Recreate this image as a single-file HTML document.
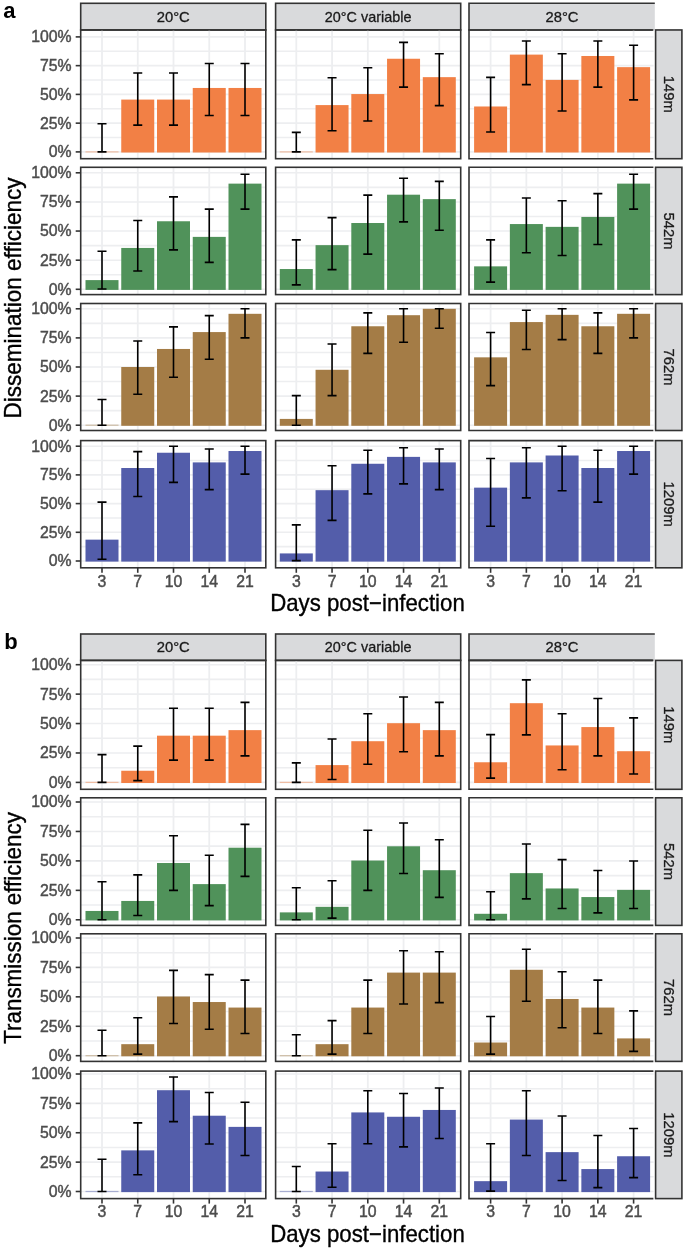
<!DOCTYPE html>
<html><head><meta charset="utf-8"><title>Dissemination and transmission efficiency</title>
<style>
html,body{margin:0;padding:0;background:#fff;}
body{width:685px;height:1250px;overflow:hidden;}
svg{display:block;font-family:"Liberation Sans", sans-serif;}
#w{will-change:transform;width:685px;height:1250px;}
</style></head><body>
<div id="w"><svg width="685" height="1250" viewBox="0 0 685 1250">
<rect x="0" y="0" width="685" height="1250" fill="#FFFFFF"/>
<text x="3.2" y="17.5" font-size="22" font-weight="bold" fill="#000">a</text>
<rect x="80.7" y="3.3" width="185.1" height="26.66" fill="#D9DADC" stroke="#333333" stroke-width="1.6"/>
<text x="173.25" y="21.83" font-size="14.8" fill="#1A1A1A" stroke="#1A1A1A" stroke-width="0.3" text-anchor="middle">20°C</text>
<rect x="275.6" y="3.3" width="185.1" height="26.66" fill="#D9DADC" stroke="#333333" stroke-width="1.6"/>
<text x="368.15" y="21.83" font-size="14.8" fill="#1A1A1A" stroke="#1A1A1A" stroke-width="0.3" text-anchor="middle" textLength="86.6" lengthAdjust="spacingAndGlyphs">20°C variable</text>
<rect x="469" y="3.3" width="185.8" height="26.66" fill="#D9DADC"/>
<path d="M654.8 3.3H469V29.96H652.8" fill="none" stroke="#333333" stroke-width="1.6"/>
<text x="562" y="21.83" font-size="14.8" fill="#1A1A1A" stroke="#1A1A1A" stroke-width="0.3" text-anchor="middle">28°C</text>
<line x1="80.7" y1="151.9" x2="265.8" y2="151.9" stroke="#EDEEF0" stroke-width="1.6"/>
<line x1="80.7" y1="137.53" x2="265.8" y2="137.53" stroke="#EDEEF0" stroke-width="1.6"/>
<line x1="80.7" y1="123.15" x2="265.8" y2="123.15" stroke="#EDEEF0" stroke-width="1.6"/>
<line x1="80.7" y1="108.78" x2="265.8" y2="108.78" stroke="#EDEEF0" stroke-width="1.6"/>
<line x1="80.7" y1="94.4" x2="265.8" y2="94.4" stroke="#EDEEF0" stroke-width="1.6"/>
<line x1="80.7" y1="80.03" x2="265.8" y2="80.03" stroke="#EDEEF0" stroke-width="1.6"/>
<line x1="80.7" y1="65.65" x2="265.8" y2="65.65" stroke="#EDEEF0" stroke-width="1.6"/>
<line x1="80.7" y1="51.28" x2="265.8" y2="51.28" stroke="#EDEEF0" stroke-width="1.6"/>
<line x1="80.7" y1="36.9" x2="265.8" y2="36.9" stroke="#EDEEF0" stroke-width="1.6"/>
<line x1="102" y1="29.96" x2="102" y2="158.7" stroke="#EDEEF0" stroke-width="1.8"/>
<line x1="137.75" y1="29.96" x2="137.75" y2="158.7" stroke="#EDEEF0" stroke-width="1.8"/>
<line x1="173.5" y1="29.96" x2="173.5" y2="158.7" stroke="#EDEEF0" stroke-width="1.8"/>
<line x1="209.25" y1="29.96" x2="209.25" y2="158.7" stroke="#EDEEF0" stroke-width="1.8"/>
<line x1="245" y1="29.96" x2="245" y2="158.7" stroke="#EDEEF0" stroke-width="1.8"/>
<rect x="85.5" y="151.3" width="33" height="1.2" fill="#F28045" fill-opacity="0.45"/>
<rect x="121.25" y="99.58" width="33" height="52.93" fill="#F28045"/>
<rect x="157" y="99.58" width="33" height="52.93" fill="#F28045"/>
<rect x="192.75" y="87.96" width="33" height="64.54" fill="#F28045"/>
<rect x="228.5" y="87.96" width="33" height="64.54" fill="#F28045"/>
<path d="M102 151.9V123.73M97.5 123.73H106.5M97.5 151.9H106.5" fill="none" stroke="#000" stroke-width="1.6"/>
<path d="M137.75 125.11V73.01M133.25 73.01H142.25M133.25 125.11H142.25" fill="none" stroke="#000" stroke-width="1.6"/>
<path d="M173.5 125.11V73.01M169 73.01H178M169 125.11H178" fill="none" stroke="#000" stroke-width="1.6"/>
<path d="M209.25 115.45V63.47M204.75 63.47H213.75M204.75 115.45H213.75" fill="none" stroke="#000" stroke-width="1.6"/>
<path d="M245 115.45V63.47M240.5 63.47H249.5M240.5 115.45H249.5" fill="none" stroke="#000" stroke-width="1.6"/>
<rect x="80.7" y="29.96" width="185.1" height="128.74" fill="none" stroke="#333333" stroke-width="1.6"/>
<line x1="275.6" y1="151.9" x2="460.7" y2="151.9" stroke="#EDEEF0" stroke-width="1.6"/>
<line x1="275.6" y1="137.53" x2="460.7" y2="137.53" stroke="#EDEEF0" stroke-width="1.6"/>
<line x1="275.6" y1="123.15" x2="460.7" y2="123.15" stroke="#EDEEF0" stroke-width="1.6"/>
<line x1="275.6" y1="108.78" x2="460.7" y2="108.78" stroke="#EDEEF0" stroke-width="1.6"/>
<line x1="275.6" y1="94.4" x2="460.7" y2="94.4" stroke="#EDEEF0" stroke-width="1.6"/>
<line x1="275.6" y1="80.03" x2="460.7" y2="80.03" stroke="#EDEEF0" stroke-width="1.6"/>
<line x1="275.6" y1="65.65" x2="460.7" y2="65.65" stroke="#EDEEF0" stroke-width="1.6"/>
<line x1="275.6" y1="51.28" x2="460.7" y2="51.28" stroke="#EDEEF0" stroke-width="1.6"/>
<line x1="275.6" y1="36.9" x2="460.7" y2="36.9" stroke="#EDEEF0" stroke-width="1.6"/>
<line x1="296.3" y1="29.96" x2="296.3" y2="158.7" stroke="#EDEEF0" stroke-width="1.8"/>
<line x1="332.05" y1="29.96" x2="332.05" y2="158.7" stroke="#EDEEF0" stroke-width="1.8"/>
<line x1="367.8" y1="29.96" x2="367.8" y2="158.7" stroke="#EDEEF0" stroke-width="1.8"/>
<line x1="403.55" y1="29.96" x2="403.55" y2="158.7" stroke="#EDEEF0" stroke-width="1.8"/>
<line x1="439.3" y1="29.96" x2="439.3" y2="158.7" stroke="#EDEEF0" stroke-width="1.8"/>
<rect x="279.8" y="151.3" width="33" height="1.2" fill="#F28045" fill-opacity="0.45"/>
<rect x="315.55" y="105.09" width="33" height="47.41" fill="#F28045"/>
<rect x="351.3" y="94.06" width="33" height="58.45" fill="#F28045"/>
<rect x="387.05" y="58.75" width="33" height="93.75" fill="#F28045"/>
<rect x="422.8" y="77.15" width="33" height="75.35" fill="#F28045"/>
<path d="M296.3 151.9V132.35M291.8 132.35H300.8M291.8 151.9H300.8" fill="none" stroke="#000" stroke-width="1.6"/>
<path d="M332.05 130.74V77.73M327.55 77.73H336.55M327.55 130.74H336.55" fill="none" stroke="#000" stroke-width="1.6"/>
<path d="M367.8 120.97V67.72M363.3 67.72H372.3M363.3 120.97H372.3" fill="none" stroke="#000" stroke-width="1.6"/>
<path d="M403.55 87.16V42.42M399.05 42.42H408.05M399.05 87.16H408.05" fill="none" stroke="#000" stroke-width="1.6"/>
<path d="M439.3 105.67V53.81M434.8 53.81H443.8M434.8 105.67H443.8" fill="none" stroke="#000" stroke-width="1.6"/>
<rect x="275.6" y="29.96" width="185.1" height="128.74" fill="none" stroke="#333333" stroke-width="1.6"/>
<line x1="469" y1="151.9" x2="653.6" y2="151.9" stroke="#EDEEF0" stroke-width="1.6"/>
<line x1="469" y1="137.53" x2="653.6" y2="137.53" stroke="#EDEEF0" stroke-width="1.6"/>
<line x1="469" y1="123.15" x2="653.6" y2="123.15" stroke="#EDEEF0" stroke-width="1.6"/>
<line x1="469" y1="108.78" x2="653.6" y2="108.78" stroke="#EDEEF0" stroke-width="1.6"/>
<line x1="469" y1="94.4" x2="653.6" y2="94.4" stroke="#EDEEF0" stroke-width="1.6"/>
<line x1="469" y1="80.03" x2="653.6" y2="80.03" stroke="#EDEEF0" stroke-width="1.6"/>
<line x1="469" y1="65.65" x2="653.6" y2="65.65" stroke="#EDEEF0" stroke-width="1.6"/>
<line x1="469" y1="51.28" x2="653.6" y2="51.28" stroke="#EDEEF0" stroke-width="1.6"/>
<line x1="469" y1="36.9" x2="653.6" y2="36.9" stroke="#EDEEF0" stroke-width="1.6"/>
<line x1="490.6" y1="29.96" x2="490.6" y2="158.7" stroke="#EDEEF0" stroke-width="1.8"/>
<line x1="526.35" y1="29.96" x2="526.35" y2="158.7" stroke="#EDEEF0" stroke-width="1.8"/>
<line x1="562.1" y1="29.96" x2="562.1" y2="158.7" stroke="#EDEEF0" stroke-width="1.8"/>
<line x1="597.85" y1="29.96" x2="597.85" y2="158.7" stroke="#EDEEF0" stroke-width="1.8"/>
<line x1="633.6" y1="29.96" x2="633.6" y2="158.7" stroke="#EDEEF0" stroke-width="1.8"/>
<rect x="474.1" y="106.48" width="33" height="46.02" fill="#F28045"/>
<rect x="509.85" y="54.61" width="33" height="97.89" fill="#F28045"/>
<rect x="545.6" y="79.91" width="33" height="72.59" fill="#F28045"/>
<rect x="581.35" y="55.99" width="33" height="96.51" fill="#F28045"/>
<rect x="617.1" y="67.15" width="33" height="85.35" fill="#F28045"/>
<path d="M490.6 132V77.38M486.1 77.38H495.1M486.1 132H495.1" fill="none" stroke="#000" stroke-width="1.6"/>
<path d="M526.35 84.62V41.04M521.85 41.04H530.85M521.85 84.62H530.85" fill="none" stroke="#000" stroke-width="1.6"/>
<path d="M562.1 110.96V53.81M557.6 53.81H566.6M557.6 110.96H566.6" fill="none" stroke="#000" stroke-width="1.6"/>
<path d="M597.85 87.16V41.04M593.35 41.04H602.35M593.35 87.16H602.35" fill="none" stroke="#000" stroke-width="1.6"/>
<path d="M633.6 99.92V45.18M629.1 45.18H638.1M629.1 99.92H638.1" fill="none" stroke="#000" stroke-width="1.6"/>
<path d="M653.4 29.96H469V158.7H653.4" fill="none" stroke="#333333" stroke-width="1.6"/>
<rect x="655.6" y="29.96" width="26.3" height="128.74" fill="#D9DADC" stroke="#333333" stroke-width="1.6"/>
<text transform="translate(663.6,94.33) rotate(90)" x="0" y="0" font-size="14.8" fill="#1A1A1A" stroke="#1A1A1A" stroke-width="0.3" text-anchor="middle">149m</text>
<line x1="75.7" y1="151.9" x2="80.7" y2="151.9" stroke="#333333" stroke-width="1.6"/>
<text x="71.6" y="157.3" font-size="15.8" fill="#4D4D4D" stroke="#4D4D4D" stroke-width="0.45" text-anchor="end">0%</text>
<line x1="75.7" y1="123.15" x2="80.7" y2="123.15" stroke="#333333" stroke-width="1.6"/>
<text x="71.6" y="128.55" font-size="15.8" fill="#4D4D4D" stroke="#4D4D4D" stroke-width="0.45" text-anchor="end">25%</text>
<line x1="75.7" y1="94.4" x2="80.7" y2="94.4" stroke="#333333" stroke-width="1.6"/>
<text x="71.6" y="99.8" font-size="15.8" fill="#4D4D4D" stroke="#4D4D4D" stroke-width="0.45" text-anchor="end">50%</text>
<line x1="75.7" y1="65.65" x2="80.7" y2="65.65" stroke="#333333" stroke-width="1.6"/>
<text x="71.6" y="71.05" font-size="15.8" fill="#4D4D4D" stroke="#4D4D4D" stroke-width="0.45" text-anchor="end">75%</text>
<line x1="75.7" y1="36.9" x2="80.7" y2="36.9" stroke="#333333" stroke-width="1.6"/>
<text x="71.6" y="42.3" font-size="15.8" fill="#4D4D4D" stroke="#4D4D4D" stroke-width="0.45" text-anchor="end">100%</text>
<line x1="80.7" y1="289.3" x2="265.8" y2="289.3" stroke="#EDEEF0" stroke-width="1.6"/>
<line x1="80.7" y1="274.74" x2="265.8" y2="274.74" stroke="#EDEEF0" stroke-width="1.6"/>
<line x1="80.7" y1="260.18" x2="265.8" y2="260.18" stroke="#EDEEF0" stroke-width="1.6"/>
<line x1="80.7" y1="245.61" x2="265.8" y2="245.61" stroke="#EDEEF0" stroke-width="1.6"/>
<line x1="80.7" y1="231.05" x2="265.8" y2="231.05" stroke="#EDEEF0" stroke-width="1.6"/>
<line x1="80.7" y1="216.49" x2="265.8" y2="216.49" stroke="#EDEEF0" stroke-width="1.6"/>
<line x1="80.7" y1="201.93" x2="265.8" y2="201.93" stroke="#EDEEF0" stroke-width="1.6"/>
<line x1="80.7" y1="187.36" x2="265.8" y2="187.36" stroke="#EDEEF0" stroke-width="1.6"/>
<line x1="80.7" y1="172.8" x2="265.8" y2="172.8" stroke="#EDEEF0" stroke-width="1.6"/>
<line x1="102" y1="167.3" x2="102" y2="294.6" stroke="#EDEEF0" stroke-width="1.8"/>
<line x1="137.75" y1="167.3" x2="137.75" y2="294.6" stroke="#EDEEF0" stroke-width="1.8"/>
<line x1="173.5" y1="167.3" x2="173.5" y2="294.6" stroke="#EDEEF0" stroke-width="1.8"/>
<line x1="209.25" y1="167.3" x2="209.25" y2="294.6" stroke="#EDEEF0" stroke-width="1.8"/>
<line x1="245" y1="167.3" x2="245" y2="294.6" stroke="#EDEEF0" stroke-width="1.8"/>
<rect x="85.5" y="280.1" width="33" height="9.8" fill="#50925A"/>
<rect x="121.25" y="247.94" width="33" height="41.96" fill="#50925A"/>
<rect x="157" y="221.26" width="33" height="68.64" fill="#50925A"/>
<rect x="192.75" y="236.88" width="33" height="53.03" fill="#50925A"/>
<rect x="228.5" y="183.63" width="33" height="106.27" fill="#50925A"/>
<path d="M102 288.95V251.32M97.5 251.32H106.5M97.5 288.95H106.5" fill="none" stroke="#000" stroke-width="1.6"/>
<path d="M137.75 271.01V220.45M133.25 220.45H142.25M133.25 271.01H142.25" fill="none" stroke="#000" stroke-width="1.6"/>
<path d="M173.5 249.92V196.92M169 196.92H178M169 249.92H178" fill="none" stroke="#000" stroke-width="1.6"/>
<path d="M209.25 262.39V209.15M204.75 209.15H213.75M204.75 262.39H213.75" fill="none" stroke="#000" stroke-width="1.6"/>
<path d="M245 209.15V174.2M240.5 174.2H249.5M240.5 209.15H249.5" fill="none" stroke="#000" stroke-width="1.6"/>
<rect x="80.7" y="167.3" width="185.1" height="127.3" fill="none" stroke="#333333" stroke-width="1.6"/>
<line x1="275.6" y1="289.3" x2="460.7" y2="289.3" stroke="#EDEEF0" stroke-width="1.6"/>
<line x1="275.6" y1="274.74" x2="460.7" y2="274.74" stroke="#EDEEF0" stroke-width="1.6"/>
<line x1="275.6" y1="260.18" x2="460.7" y2="260.18" stroke="#EDEEF0" stroke-width="1.6"/>
<line x1="275.6" y1="245.61" x2="460.7" y2="245.61" stroke="#EDEEF0" stroke-width="1.6"/>
<line x1="275.6" y1="231.05" x2="460.7" y2="231.05" stroke="#EDEEF0" stroke-width="1.6"/>
<line x1="275.6" y1="216.49" x2="460.7" y2="216.49" stroke="#EDEEF0" stroke-width="1.6"/>
<line x1="275.6" y1="201.93" x2="460.7" y2="201.93" stroke="#EDEEF0" stroke-width="1.6"/>
<line x1="275.6" y1="187.36" x2="460.7" y2="187.36" stroke="#EDEEF0" stroke-width="1.6"/>
<line x1="275.6" y1="172.8" x2="460.7" y2="172.8" stroke="#EDEEF0" stroke-width="1.6"/>
<line x1="296.3" y1="167.3" x2="296.3" y2="294.6" stroke="#EDEEF0" stroke-width="1.8"/>
<line x1="332.05" y1="167.3" x2="332.05" y2="294.6" stroke="#EDEEF0" stroke-width="1.8"/>
<line x1="367.8" y1="167.3" x2="367.8" y2="294.6" stroke="#EDEEF0" stroke-width="1.8"/>
<line x1="403.55" y1="167.3" x2="403.55" y2="294.6" stroke="#EDEEF0" stroke-width="1.8"/>
<line x1="439.3" y1="167.3" x2="439.3" y2="294.6" stroke="#EDEEF0" stroke-width="1.8"/>
<rect x="279.8" y="269.03" width="33" height="20.87" fill="#50925A"/>
<rect x="315.55" y="245.15" width="33" height="44.75" fill="#50925A"/>
<rect x="351.3" y="223.01" width="33" height="66.89" fill="#50925A"/>
<rect x="387.05" y="194.7" width="33" height="95.2" fill="#50925A"/>
<rect x="422.8" y="199.13" width="33" height="90.77" fill="#50925A"/>
<path d="M296.3 284.87V239.9M291.8 239.9H300.8M291.8 284.87H300.8" fill="none" stroke="#000" stroke-width="1.6"/>
<path d="M332.05 269.61V217.65M327.55 217.65H336.55M327.55 269.61H336.55" fill="none" stroke="#000" stroke-width="1.6"/>
<path d="M367.8 254.12V195.17M363.3 195.17H372.3M363.3 254.12H372.3" fill="none" stroke="#000" stroke-width="1.6"/>
<path d="M403.55 221.85V178.28M399.05 178.28H408.05M399.05 221.85H408.05" fill="none" stroke="#000" stroke-width="1.6"/>
<path d="M439.3 230.23V181.42M434.8 181.42H443.8M434.8 230.23H443.8" fill="none" stroke="#000" stroke-width="1.6"/>
<rect x="275.6" y="167.3" width="185.1" height="127.3" fill="none" stroke="#333333" stroke-width="1.6"/>
<line x1="469" y1="289.3" x2="653.6" y2="289.3" stroke="#EDEEF0" stroke-width="1.6"/>
<line x1="469" y1="274.74" x2="653.6" y2="274.74" stroke="#EDEEF0" stroke-width="1.6"/>
<line x1="469" y1="260.18" x2="653.6" y2="260.18" stroke="#EDEEF0" stroke-width="1.6"/>
<line x1="469" y1="245.61" x2="653.6" y2="245.61" stroke="#EDEEF0" stroke-width="1.6"/>
<line x1="469" y1="231.05" x2="653.6" y2="231.05" stroke="#EDEEF0" stroke-width="1.6"/>
<line x1="469" y1="216.49" x2="653.6" y2="216.49" stroke="#EDEEF0" stroke-width="1.6"/>
<line x1="469" y1="201.93" x2="653.6" y2="201.93" stroke="#EDEEF0" stroke-width="1.6"/>
<line x1="469" y1="187.36" x2="653.6" y2="187.36" stroke="#EDEEF0" stroke-width="1.6"/>
<line x1="469" y1="172.8" x2="653.6" y2="172.8" stroke="#EDEEF0" stroke-width="1.6"/>
<line x1="490.6" y1="167.3" x2="490.6" y2="294.6" stroke="#EDEEF0" stroke-width="1.8"/>
<line x1="526.35" y1="167.3" x2="526.35" y2="294.6" stroke="#EDEEF0" stroke-width="1.8"/>
<line x1="562.1" y1="167.3" x2="562.1" y2="294.6" stroke="#EDEEF0" stroke-width="1.8"/>
<line x1="597.85" y1="167.3" x2="597.85" y2="294.6" stroke="#EDEEF0" stroke-width="1.8"/>
<line x1="633.6" y1="167.3" x2="633.6" y2="294.6" stroke="#EDEEF0" stroke-width="1.8"/>
<rect x="474.1" y="266.35" width="33" height="23.55" fill="#50925A"/>
<rect x="509.85" y="224.06" width="33" height="65.84" fill="#50925A"/>
<rect x="545.6" y="226.86" width="33" height="63.04" fill="#50925A"/>
<rect x="581.35" y="216.95" width="33" height="72.95" fill="#50925A"/>
<rect x="617.1" y="183.63" width="33" height="106.27" fill="#50925A"/>
<path d="M490.6 282.08V239.9M486.1 239.9H495.1M486.1 282.08H495.1" fill="none" stroke="#000" stroke-width="1.6"/>
<path d="M526.35 252.72V197.96M521.85 197.96H530.85M521.85 252.72H530.85" fill="none" stroke="#000" stroke-width="1.6"/>
<path d="M562.1 255.52V200.76M557.6 200.76H566.6M557.6 255.52H566.6" fill="none" stroke="#000" stroke-width="1.6"/>
<path d="M597.85 244.45V193.65M593.35 193.65H602.35M593.35 244.45H602.35" fill="none" stroke="#000" stroke-width="1.6"/>
<path d="M633.6 209.15V174.2M629.1 174.2H638.1M629.1 209.15H638.1" fill="none" stroke="#000" stroke-width="1.6"/>
<path d="M653.4 167.3H469V294.6H653.4" fill="none" stroke="#333333" stroke-width="1.6"/>
<rect x="655.6" y="167.3" width="26.3" height="127.3" fill="#D9DADC" stroke="#333333" stroke-width="1.6"/>
<text transform="translate(663.6,230.95) rotate(90)" x="0" y="0" font-size="14.8" fill="#1A1A1A" stroke="#1A1A1A" stroke-width="0.3" text-anchor="middle">542m</text>
<line x1="75.7" y1="289.3" x2="80.7" y2="289.3" stroke="#333333" stroke-width="1.6"/>
<text x="71.6" y="294.7" font-size="15.8" fill="#4D4D4D" stroke="#4D4D4D" stroke-width="0.45" text-anchor="end">0%</text>
<line x1="75.7" y1="260.18" x2="80.7" y2="260.18" stroke="#333333" stroke-width="1.6"/>
<text x="71.6" y="265.57" font-size="15.8" fill="#4D4D4D" stroke="#4D4D4D" stroke-width="0.45" text-anchor="end">25%</text>
<line x1="75.7" y1="231.05" x2="80.7" y2="231.05" stroke="#333333" stroke-width="1.6"/>
<text x="71.6" y="236.45" font-size="15.8" fill="#4D4D4D" stroke="#4D4D4D" stroke-width="0.45" text-anchor="end">50%</text>
<line x1="75.7" y1="201.93" x2="80.7" y2="201.93" stroke="#333333" stroke-width="1.6"/>
<text x="71.6" y="207.33" font-size="15.8" fill="#4D4D4D" stroke="#4D4D4D" stroke-width="0.45" text-anchor="end">75%</text>
<line x1="75.7" y1="172.8" x2="80.7" y2="172.8" stroke="#333333" stroke-width="1.6"/>
<text x="71.6" y="178.2" font-size="15.8" fill="#4D4D4D" stroke="#4D4D4D" stroke-width="0.45" text-anchor="end">100%</text>
<line x1="80.7" y1="425.2" x2="265.8" y2="425.2" stroke="#EDEEF0" stroke-width="1.6"/>
<line x1="80.7" y1="410.65" x2="265.8" y2="410.65" stroke="#EDEEF0" stroke-width="1.6"/>
<line x1="80.7" y1="396.1" x2="265.8" y2="396.1" stroke="#EDEEF0" stroke-width="1.6"/>
<line x1="80.7" y1="381.55" x2="265.8" y2="381.55" stroke="#EDEEF0" stroke-width="1.6"/>
<line x1="80.7" y1="367" x2="265.8" y2="367" stroke="#EDEEF0" stroke-width="1.6"/>
<line x1="80.7" y1="352.45" x2="265.8" y2="352.45" stroke="#EDEEF0" stroke-width="1.6"/>
<line x1="80.7" y1="337.9" x2="265.8" y2="337.9" stroke="#EDEEF0" stroke-width="1.6"/>
<line x1="80.7" y1="323.35" x2="265.8" y2="323.35" stroke="#EDEEF0" stroke-width="1.6"/>
<line x1="80.7" y1="308.8" x2="265.8" y2="308.8" stroke="#EDEEF0" stroke-width="1.6"/>
<line x1="102" y1="303.5" x2="102" y2="430.5" stroke="#EDEEF0" stroke-width="1.8"/>
<line x1="137.75" y1="303.5" x2="137.75" y2="430.5" stroke="#EDEEF0" stroke-width="1.8"/>
<line x1="173.5" y1="303.5" x2="173.5" y2="430.5" stroke="#EDEEF0" stroke-width="1.8"/>
<line x1="209.25" y1="303.5" x2="209.25" y2="430.5" stroke="#EDEEF0" stroke-width="1.8"/>
<line x1="245" y1="303.5" x2="245" y2="430.5" stroke="#EDEEF0" stroke-width="1.8"/>
<rect x="85.5" y="424.6" width="33" height="1.2" fill="#A47C46" fill-opacity="0.45"/>
<rect x="121.25" y="367" width="33" height="58.8" fill="#A47C46"/>
<rect x="157" y="348.96" width="33" height="76.84" fill="#A47C46"/>
<rect x="192.75" y="332.08" width="33" height="93.72" fill="#A47C46"/>
<rect x="228.5" y="313.81" width="33" height="111.99" fill="#A47C46"/>
<path d="M102 425.2V399.48M97.5 399.48H106.5M97.5 425.2H106.5" fill="none" stroke="#000" stroke-width="1.6"/>
<path d="M137.75 394.24V341.04M133.25 341.04H142.25M133.25 394.24H142.25" fill="none" stroke="#000" stroke-width="1.6"/>
<path d="M173.5 377.24V326.84M169 326.84H178M169 377.24H178" fill="none" stroke="#000" stroke-width="1.6"/>
<path d="M209.25 359.32V315.67M204.75 315.67H213.75M204.75 359.32H213.75" fill="none" stroke="#000" stroke-width="1.6"/>
<path d="M245 337.9V308.8M240.5 308.8H249.5M240.5 337.9H249.5" fill="none" stroke="#000" stroke-width="1.6"/>
<rect x="80.7" y="303.5" width="185.1" height="127" fill="none" stroke="#333333" stroke-width="1.6"/>
<line x1="275.6" y1="425.2" x2="460.7" y2="425.2" stroke="#EDEEF0" stroke-width="1.6"/>
<line x1="275.6" y1="410.65" x2="460.7" y2="410.65" stroke="#EDEEF0" stroke-width="1.6"/>
<line x1="275.6" y1="396.1" x2="460.7" y2="396.1" stroke="#EDEEF0" stroke-width="1.6"/>
<line x1="275.6" y1="381.55" x2="460.7" y2="381.55" stroke="#EDEEF0" stroke-width="1.6"/>
<line x1="275.6" y1="367" x2="460.7" y2="367" stroke="#EDEEF0" stroke-width="1.6"/>
<line x1="275.6" y1="352.45" x2="460.7" y2="352.45" stroke="#EDEEF0" stroke-width="1.6"/>
<line x1="275.6" y1="337.9" x2="460.7" y2="337.9" stroke="#EDEEF0" stroke-width="1.6"/>
<line x1="275.6" y1="323.35" x2="460.7" y2="323.35" stroke="#EDEEF0" stroke-width="1.6"/>
<line x1="275.6" y1="308.8" x2="460.7" y2="308.8" stroke="#EDEEF0" stroke-width="1.6"/>
<line x1="296.3" y1="303.5" x2="296.3" y2="430.5" stroke="#EDEEF0" stroke-width="1.8"/>
<line x1="332.05" y1="303.5" x2="332.05" y2="430.5" stroke="#EDEEF0" stroke-width="1.8"/>
<line x1="367.8" y1="303.5" x2="367.8" y2="430.5" stroke="#EDEEF0" stroke-width="1.8"/>
<line x1="403.55" y1="303.5" x2="403.55" y2="430.5" stroke="#EDEEF0" stroke-width="1.8"/>
<line x1="439.3" y1="303.5" x2="439.3" y2="430.5" stroke="#EDEEF0" stroke-width="1.8"/>
<rect x="279.8" y="418.91" width="33" height="6.89" fill="#A47C46"/>
<rect x="315.55" y="369.79" width="33" height="56.01" fill="#A47C46"/>
<rect x="351.3" y="326.26" width="33" height="99.54" fill="#A47C46"/>
<rect x="387.05" y="315.2" width="33" height="110.6" fill="#A47C46"/>
<rect x="422.8" y="308.8" width="33" height="117" fill="#A47C46"/>
<path d="M296.3 425.2V395.63M291.8 395.63H300.8M291.8 425.2H300.8" fill="none" stroke="#000" stroke-width="1.6"/>
<path d="M332.05 395.63V343.95M327.55 343.95H336.55M327.55 395.63H336.55" fill="none" stroke="#000" stroke-width="1.6"/>
<path d="M367.8 353.38V312.87M363.3 312.87H372.3M363.3 353.38H372.3" fill="none" stroke="#000" stroke-width="1.6"/>
<path d="M403.55 342.32V308.8M399.05 308.8H408.05M399.05 342.32H408.05" fill="none" stroke="#000" stroke-width="1.6"/>
<path d="M439.3 328.24V308.8M434.8 308.8H443.8M434.8 328.24H443.8" fill="none" stroke="#000" stroke-width="1.6"/>
<rect x="275.6" y="303.5" width="185.1" height="127" fill="none" stroke="#333333" stroke-width="1.6"/>
<line x1="469" y1="425.2" x2="653.6" y2="425.2" stroke="#EDEEF0" stroke-width="1.6"/>
<line x1="469" y1="410.65" x2="653.6" y2="410.65" stroke="#EDEEF0" stroke-width="1.6"/>
<line x1="469" y1="396.1" x2="653.6" y2="396.1" stroke="#EDEEF0" stroke-width="1.6"/>
<line x1="469" y1="381.55" x2="653.6" y2="381.55" stroke="#EDEEF0" stroke-width="1.6"/>
<line x1="469" y1="367" x2="653.6" y2="367" stroke="#EDEEF0" stroke-width="1.6"/>
<line x1="469" y1="352.45" x2="653.6" y2="352.45" stroke="#EDEEF0" stroke-width="1.6"/>
<line x1="469" y1="337.9" x2="653.6" y2="337.9" stroke="#EDEEF0" stroke-width="1.6"/>
<line x1="469" y1="323.35" x2="653.6" y2="323.35" stroke="#EDEEF0" stroke-width="1.6"/>
<line x1="469" y1="308.8" x2="653.6" y2="308.8" stroke="#EDEEF0" stroke-width="1.6"/>
<line x1="490.6" y1="303.5" x2="490.6" y2="430.5" stroke="#EDEEF0" stroke-width="1.8"/>
<line x1="526.35" y1="303.5" x2="526.35" y2="430.5" stroke="#EDEEF0" stroke-width="1.8"/>
<line x1="562.1" y1="303.5" x2="562.1" y2="430.5" stroke="#EDEEF0" stroke-width="1.8"/>
<line x1="597.85" y1="303.5" x2="597.85" y2="430.5" stroke="#EDEEF0" stroke-width="1.8"/>
<line x1="633.6" y1="303.5" x2="633.6" y2="430.5" stroke="#EDEEF0" stroke-width="1.8"/>
<rect x="474.1" y="357.34" width="33" height="68.46" fill="#A47C46"/>
<rect x="509.85" y="322.07" width="33" height="103.73" fill="#A47C46"/>
<rect x="545.6" y="314.85" width="33" height="110.95" fill="#A47C46"/>
<rect x="581.35" y="326.26" width="33" height="99.54" fill="#A47C46"/>
<rect x="617.1" y="313.81" width="33" height="111.99" fill="#A47C46"/>
<path d="M490.6 385.62V332.55M486.1 332.55H495.1M486.1 385.62H495.1" fill="none" stroke="#000" stroke-width="1.6"/>
<path d="M526.35 349.54V310.2M521.85 310.2H530.85M521.85 349.54H530.85" fill="none" stroke="#000" stroke-width="1.6"/>
<path d="M562.1 339.65V308.8M557.6 308.8H566.6M557.6 339.65H566.6" fill="none" stroke="#000" stroke-width="1.6"/>
<path d="M597.85 353.38V312.87M593.35 312.87H602.35M593.35 353.38H602.35" fill="none" stroke="#000" stroke-width="1.6"/>
<path d="M633.6 337.9V308.8M629.1 308.8H638.1M629.1 337.9H638.1" fill="none" stroke="#000" stroke-width="1.6"/>
<path d="M653.4 303.5H469V430.5H653.4" fill="none" stroke="#333333" stroke-width="1.6"/>
<rect x="655.6" y="303.5" width="26.3" height="127" fill="#D9DADC" stroke="#333333" stroke-width="1.6"/>
<text transform="translate(663.6,367) rotate(90)" x="0" y="0" font-size="14.8" fill="#1A1A1A" stroke="#1A1A1A" stroke-width="0.3" text-anchor="middle">762m</text>
<line x1="75.7" y1="425.2" x2="80.7" y2="425.2" stroke="#333333" stroke-width="1.6"/>
<text x="71.6" y="430.6" font-size="15.8" fill="#4D4D4D" stroke="#4D4D4D" stroke-width="0.45" text-anchor="end">0%</text>
<line x1="75.7" y1="396.1" x2="80.7" y2="396.1" stroke="#333333" stroke-width="1.6"/>
<text x="71.6" y="401.5" font-size="15.8" fill="#4D4D4D" stroke="#4D4D4D" stroke-width="0.45" text-anchor="end">25%</text>
<line x1="75.7" y1="367" x2="80.7" y2="367" stroke="#333333" stroke-width="1.6"/>
<text x="71.6" y="372.4" font-size="15.8" fill="#4D4D4D" stroke="#4D4D4D" stroke-width="0.45" text-anchor="end">50%</text>
<line x1="75.7" y1="337.9" x2="80.7" y2="337.9" stroke="#333333" stroke-width="1.6"/>
<text x="71.6" y="343.3" font-size="15.8" fill="#4D4D4D" stroke="#4D4D4D" stroke-width="0.45" text-anchor="end">75%</text>
<line x1="75.7" y1="308.8" x2="80.7" y2="308.8" stroke="#333333" stroke-width="1.6"/>
<text x="71.6" y="314.2" font-size="15.8" fill="#4D4D4D" stroke="#4D4D4D" stroke-width="0.45" text-anchor="end">100%</text>
<line x1="80.7" y1="561" x2="265.8" y2="561" stroke="#EDEEF0" stroke-width="1.6"/>
<line x1="80.7" y1="546.65" x2="265.8" y2="546.65" stroke="#EDEEF0" stroke-width="1.6"/>
<line x1="80.7" y1="532.3" x2="265.8" y2="532.3" stroke="#EDEEF0" stroke-width="1.6"/>
<line x1="80.7" y1="517.95" x2="265.8" y2="517.95" stroke="#EDEEF0" stroke-width="1.6"/>
<line x1="80.7" y1="503.6" x2="265.8" y2="503.6" stroke="#EDEEF0" stroke-width="1.6"/>
<line x1="80.7" y1="489.25" x2="265.8" y2="489.25" stroke="#EDEEF0" stroke-width="1.6"/>
<line x1="80.7" y1="474.9" x2="265.8" y2="474.9" stroke="#EDEEF0" stroke-width="1.6"/>
<line x1="80.7" y1="460.55" x2="265.8" y2="460.55" stroke="#EDEEF0" stroke-width="1.6"/>
<line x1="80.7" y1="446.2" x2="265.8" y2="446.2" stroke="#EDEEF0" stroke-width="1.6"/>
<line x1="102" y1="440.6" x2="102" y2="567.8" stroke="#EDEEF0" stroke-width="1.8"/>
<line x1="137.75" y1="440.6" x2="137.75" y2="567.8" stroke="#EDEEF0" stroke-width="1.8"/>
<line x1="173.5" y1="440.6" x2="173.5" y2="567.8" stroke="#EDEEF0" stroke-width="1.8"/>
<line x1="209.25" y1="440.6" x2="209.25" y2="567.8" stroke="#EDEEF0" stroke-width="1.8"/>
<line x1="245" y1="440.6" x2="245" y2="567.8" stroke="#EDEEF0" stroke-width="1.8"/>
<rect x="85.5" y="539.65" width="33" height="21.95" fill="#535DAA"/>
<rect x="121.25" y="468.01" width="33" height="93.59" fill="#535DAA"/>
<rect x="157" y="452.74" width="33" height="108.86" fill="#535DAA"/>
<rect x="192.75" y="462.39" width="33" height="99.21" fill="#535DAA"/>
<rect x="228.5" y="451.02" width="33" height="110.58" fill="#535DAA"/>
<path d="M102 559.28V502.11M97.5 502.11H106.5M97.5 559.28H106.5" fill="none" stroke="#000" stroke-width="1.6"/>
<path d="M137.75 496.48V451.6M133.25 451.6H142.25M133.25 496.48H142.25" fill="none" stroke="#000" stroke-width="1.6"/>
<path d="M173.5 482.36V446.31M169 446.31H178M169 482.36H178" fill="none" stroke="#000" stroke-width="1.6"/>
<path d="M209.25 489.59V449.07M204.75 449.07H213.75M204.75 489.59H213.75" fill="none" stroke="#000" stroke-width="1.6"/>
<path d="M245 474.1V446.2M240.5 446.2H249.5M240.5 474.1H249.5" fill="none" stroke="#000" stroke-width="1.6"/>
<rect x="80.7" y="440.6" width="185.1" height="127.2" fill="none" stroke="#333333" stroke-width="1.6"/>
<line x1="275.6" y1="561" x2="460.7" y2="561" stroke="#EDEEF0" stroke-width="1.6"/>
<line x1="275.6" y1="546.65" x2="460.7" y2="546.65" stroke="#EDEEF0" stroke-width="1.6"/>
<line x1="275.6" y1="532.3" x2="460.7" y2="532.3" stroke="#EDEEF0" stroke-width="1.6"/>
<line x1="275.6" y1="517.95" x2="460.7" y2="517.95" stroke="#EDEEF0" stroke-width="1.6"/>
<line x1="275.6" y1="503.6" x2="460.7" y2="503.6" stroke="#EDEEF0" stroke-width="1.6"/>
<line x1="275.6" y1="489.25" x2="460.7" y2="489.25" stroke="#EDEEF0" stroke-width="1.6"/>
<line x1="275.6" y1="474.9" x2="460.7" y2="474.9" stroke="#EDEEF0" stroke-width="1.6"/>
<line x1="275.6" y1="460.55" x2="460.7" y2="460.55" stroke="#EDEEF0" stroke-width="1.6"/>
<line x1="275.6" y1="446.2" x2="460.7" y2="446.2" stroke="#EDEEF0" stroke-width="1.6"/>
<line x1="296.3" y1="440.6" x2="296.3" y2="567.8" stroke="#EDEEF0" stroke-width="1.8"/>
<line x1="332.05" y1="440.6" x2="332.05" y2="567.8" stroke="#EDEEF0" stroke-width="1.8"/>
<line x1="367.8" y1="440.6" x2="367.8" y2="567.8" stroke="#EDEEF0" stroke-width="1.8"/>
<line x1="403.55" y1="440.6" x2="403.55" y2="567.8" stroke="#EDEEF0" stroke-width="1.8"/>
<line x1="439.3" y1="440.6" x2="439.3" y2="567.8" stroke="#EDEEF0" stroke-width="1.8"/>
<rect x="279.8" y="553.42" width="33" height="8.18" fill="#535DAA"/>
<rect x="315.55" y="490.17" width="33" height="71.43" fill="#535DAA"/>
<rect x="351.3" y="463.76" width="33" height="97.84" fill="#535DAA"/>
<rect x="387.05" y="456.88" width="33" height="104.72" fill="#535DAA"/>
<rect x="422.8" y="462.39" width="33" height="99.21" fill="#535DAA"/>
<path d="M296.3 560.66V524.84M291.8 524.84H300.8M291.8 560.66H300.8" fill="none" stroke="#000" stroke-width="1.6"/>
<path d="M332.05 520.36V465.72M327.55 465.72H336.55M327.55 520.36H336.55" fill="none" stroke="#000" stroke-width="1.6"/>
<path d="M367.8 493.84V450.22M363.3 450.22H372.3M363.3 493.84H372.3" fill="none" stroke="#000" stroke-width="1.6"/>
<path d="M403.55 483.85V447.69M399.05 447.69H408.05M399.05 483.85H408.05" fill="none" stroke="#000" stroke-width="1.6"/>
<path d="M439.3 489.59V449.07M434.8 449.07H443.8M434.8 489.59H443.8" fill="none" stroke="#000" stroke-width="1.6"/>
<rect x="275.6" y="440.6" width="185.1" height="127.2" fill="none" stroke="#333333" stroke-width="1.6"/>
<line x1="469" y1="561" x2="653.6" y2="561" stroke="#EDEEF0" stroke-width="1.6"/>
<line x1="469" y1="546.65" x2="653.6" y2="546.65" stroke="#EDEEF0" stroke-width="1.6"/>
<line x1="469" y1="532.3" x2="653.6" y2="532.3" stroke="#EDEEF0" stroke-width="1.6"/>
<line x1="469" y1="517.95" x2="653.6" y2="517.95" stroke="#EDEEF0" stroke-width="1.6"/>
<line x1="469" y1="503.6" x2="653.6" y2="503.6" stroke="#EDEEF0" stroke-width="1.6"/>
<line x1="469" y1="489.25" x2="653.6" y2="489.25" stroke="#EDEEF0" stroke-width="1.6"/>
<line x1="469" y1="474.9" x2="653.6" y2="474.9" stroke="#EDEEF0" stroke-width="1.6"/>
<line x1="469" y1="460.55" x2="653.6" y2="460.55" stroke="#EDEEF0" stroke-width="1.6"/>
<line x1="469" y1="446.2" x2="653.6" y2="446.2" stroke="#EDEEF0" stroke-width="1.6"/>
<line x1="490.6" y1="440.6" x2="490.6" y2="567.8" stroke="#EDEEF0" stroke-width="1.8"/>
<line x1="526.35" y1="440.6" x2="526.35" y2="567.8" stroke="#EDEEF0" stroke-width="1.8"/>
<line x1="562.1" y1="440.6" x2="562.1" y2="567.8" stroke="#EDEEF0" stroke-width="1.8"/>
<line x1="597.85" y1="440.6" x2="597.85" y2="567.8" stroke="#EDEEF0" stroke-width="1.8"/>
<line x1="633.6" y1="440.6" x2="633.6" y2="567.8" stroke="#EDEEF0" stroke-width="1.8"/>
<rect x="474.1" y="487.64" width="33" height="73.96" fill="#535DAA"/>
<rect x="509.85" y="462.39" width="33" height="99.21" fill="#535DAA"/>
<rect x="545.6" y="455.5" width="33" height="106.1" fill="#535DAA"/>
<rect x="581.35" y="468.01" width="33" height="93.59" fill="#535DAA"/>
<rect x="617.1" y="451.02" width="33" height="110.58" fill="#535DAA"/>
<path d="M490.6 526.22V458.48M486.1 458.48H495.1M486.1 526.22H495.1" fill="none" stroke="#000" stroke-width="1.6"/>
<path d="M526.35 497.86V447.69M521.85 447.69H530.85M521.85 497.86H530.85" fill="none" stroke="#000" stroke-width="1.6"/>
<path d="M562.1 490.74V446.2M557.6 446.2H566.6M557.6 490.74H566.6" fill="none" stroke="#000" stroke-width="1.6"/>
<path d="M597.85 502.11V450.22M593.35 450.22H602.35M593.35 502.11H602.35" fill="none" stroke="#000" stroke-width="1.6"/>
<path d="M633.6 474.1V446.2M629.1 446.2H638.1M629.1 474.1H638.1" fill="none" stroke="#000" stroke-width="1.6"/>
<path d="M653.4 440.6H469V567.8H653.4" fill="none" stroke="#333333" stroke-width="1.6"/>
<rect x="655.6" y="440.6" width="26.3" height="127.2" fill="#D9DADC" stroke="#333333" stroke-width="1.6"/>
<text transform="translate(663.6,504.2) rotate(90)" x="0" y="0" font-size="14.8" fill="#1A1A1A" stroke="#1A1A1A" stroke-width="0.3" text-anchor="middle">1209m</text>
<line x1="75.7" y1="561" x2="80.7" y2="561" stroke="#333333" stroke-width="1.6"/>
<text x="71.6" y="566.4" font-size="15.8" fill="#4D4D4D" stroke="#4D4D4D" stroke-width="0.45" text-anchor="end">0%</text>
<line x1="75.7" y1="532.3" x2="80.7" y2="532.3" stroke="#333333" stroke-width="1.6"/>
<text x="71.6" y="537.7" font-size="15.8" fill="#4D4D4D" stroke="#4D4D4D" stroke-width="0.45" text-anchor="end">25%</text>
<line x1="75.7" y1="503.6" x2="80.7" y2="503.6" stroke="#333333" stroke-width="1.6"/>
<text x="71.6" y="509" font-size="15.8" fill="#4D4D4D" stroke="#4D4D4D" stroke-width="0.45" text-anchor="end">50%</text>
<line x1="75.7" y1="474.9" x2="80.7" y2="474.9" stroke="#333333" stroke-width="1.6"/>
<text x="71.6" y="480.3" font-size="15.8" fill="#4D4D4D" stroke="#4D4D4D" stroke-width="0.45" text-anchor="end">75%</text>
<line x1="75.7" y1="446.2" x2="80.7" y2="446.2" stroke="#333333" stroke-width="1.6"/>
<text x="71.6" y="451.6" font-size="15.8" fill="#4D4D4D" stroke="#4D4D4D" stroke-width="0.45" text-anchor="end">100%</text>
<line x1="102" y1="567.8" x2="102" y2="572.8" stroke="#333333" stroke-width="1.6"/>
<text x="102" y="587" font-size="15.8" fill="#4D4D4D" stroke="#4D4D4D" stroke-width="0.45" text-anchor="middle">3</text>
<line x1="137.75" y1="567.8" x2="137.75" y2="572.8" stroke="#333333" stroke-width="1.6"/>
<text x="137.75" y="587" font-size="15.8" fill="#4D4D4D" stroke="#4D4D4D" stroke-width="0.45" text-anchor="middle">7</text>
<line x1="173.5" y1="567.8" x2="173.5" y2="572.8" stroke="#333333" stroke-width="1.6"/>
<text x="173.5" y="587" font-size="15.8" fill="#4D4D4D" stroke="#4D4D4D" stroke-width="0.45" text-anchor="middle">10</text>
<line x1="209.25" y1="567.8" x2="209.25" y2="572.8" stroke="#333333" stroke-width="1.6"/>
<text x="209.25" y="587" font-size="15.8" fill="#4D4D4D" stroke="#4D4D4D" stroke-width="0.45" text-anchor="middle">14</text>
<line x1="245" y1="567.8" x2="245" y2="572.8" stroke="#333333" stroke-width="1.6"/>
<text x="245" y="587" font-size="15.8" fill="#4D4D4D" stroke="#4D4D4D" stroke-width="0.45" text-anchor="middle">21</text>
<line x1="296.3" y1="567.8" x2="296.3" y2="572.8" stroke="#333333" stroke-width="1.6"/>
<text x="296.3" y="587" font-size="15.8" fill="#4D4D4D" stroke="#4D4D4D" stroke-width="0.45" text-anchor="middle">3</text>
<line x1="332.05" y1="567.8" x2="332.05" y2="572.8" stroke="#333333" stroke-width="1.6"/>
<text x="332.05" y="587" font-size="15.8" fill="#4D4D4D" stroke="#4D4D4D" stroke-width="0.45" text-anchor="middle">7</text>
<line x1="367.8" y1="567.8" x2="367.8" y2="572.8" stroke="#333333" stroke-width="1.6"/>
<text x="367.8" y="587" font-size="15.8" fill="#4D4D4D" stroke="#4D4D4D" stroke-width="0.45" text-anchor="middle">10</text>
<line x1="403.55" y1="567.8" x2="403.55" y2="572.8" stroke="#333333" stroke-width="1.6"/>
<text x="403.55" y="587" font-size="15.8" fill="#4D4D4D" stroke="#4D4D4D" stroke-width="0.45" text-anchor="middle">14</text>
<line x1="439.3" y1="567.8" x2="439.3" y2="572.8" stroke="#333333" stroke-width="1.6"/>
<text x="439.3" y="587" font-size="15.8" fill="#4D4D4D" stroke="#4D4D4D" stroke-width="0.45" text-anchor="middle">21</text>
<line x1="490.6" y1="567.8" x2="490.6" y2="572.8" stroke="#333333" stroke-width="1.6"/>
<text x="490.6" y="587" font-size="15.8" fill="#4D4D4D" stroke="#4D4D4D" stroke-width="0.45" text-anchor="middle">3</text>
<line x1="526.35" y1="567.8" x2="526.35" y2="572.8" stroke="#333333" stroke-width="1.6"/>
<text x="526.35" y="587" font-size="15.8" fill="#4D4D4D" stroke="#4D4D4D" stroke-width="0.45" text-anchor="middle">7</text>
<line x1="562.1" y1="567.8" x2="562.1" y2="572.8" stroke="#333333" stroke-width="1.6"/>
<text x="562.1" y="587" font-size="15.8" fill="#4D4D4D" stroke="#4D4D4D" stroke-width="0.45" text-anchor="middle">10</text>
<line x1="597.85" y1="567.8" x2="597.85" y2="572.8" stroke="#333333" stroke-width="1.6"/>
<text x="597.85" y="587" font-size="15.8" fill="#4D4D4D" stroke="#4D4D4D" stroke-width="0.45" text-anchor="middle">14</text>
<line x1="633.6" y1="567.8" x2="633.6" y2="572.8" stroke="#333333" stroke-width="1.6"/>
<text x="633.6" y="587" font-size="15.8" fill="#4D4D4D" stroke="#4D4D4D" stroke-width="0.45" text-anchor="middle">21</text>
<text x="270.2" y="610.5" font-size="23.8" fill="#000" stroke="#000" stroke-width="0.35" textLength="194.6" lengthAdjust="spacingAndGlyphs">Days post−infection</text>
<text transform="translate(21.1,298) rotate(-90)" x="-120.5" y="0" font-size="23.8" fill="#000" stroke="#000" stroke-width="0.35" textLength="241" lengthAdjust="spacingAndGlyphs">Dissemination efficiency</text>
<text x="4.3" y="648.5" font-size="22" font-weight="bold" fill="#000">b</text>
<rect x="80.7" y="634" width="185.1" height="26.4" fill="#D9DADC" stroke="#333333" stroke-width="1.6"/>
<text x="173.25" y="652.35" font-size="14.8" fill="#1A1A1A" stroke="#1A1A1A" stroke-width="0.3" text-anchor="middle">20°C</text>
<rect x="275.6" y="634" width="185.1" height="26.4" fill="#D9DADC" stroke="#333333" stroke-width="1.6"/>
<text x="368.15" y="652.35" font-size="14.8" fill="#1A1A1A" stroke="#1A1A1A" stroke-width="0.3" text-anchor="middle" textLength="86.6" lengthAdjust="spacingAndGlyphs">20°C variable</text>
<rect x="469" y="634" width="185.8" height="26.4" fill="#D9DADC"/>
<path d="M654.8 634H469V660.4H652.8" fill="none" stroke="#333333" stroke-width="1.6"/>
<text x="562" y="652.35" font-size="14.8" fill="#1A1A1A" stroke="#1A1A1A" stroke-width="0.3" text-anchor="middle">28°C</text>
<line x1="80.7" y1="782.4" x2="265.8" y2="782.4" stroke="#EDEEF0" stroke-width="1.6"/>
<line x1="80.7" y1="767.69" x2="265.8" y2="767.69" stroke="#EDEEF0" stroke-width="1.6"/>
<line x1="80.7" y1="752.98" x2="265.8" y2="752.98" stroke="#EDEEF0" stroke-width="1.6"/>
<line x1="80.7" y1="738.26" x2="265.8" y2="738.26" stroke="#EDEEF0" stroke-width="1.6"/>
<line x1="80.7" y1="723.55" x2="265.8" y2="723.55" stroke="#EDEEF0" stroke-width="1.6"/>
<line x1="80.7" y1="708.84" x2="265.8" y2="708.84" stroke="#EDEEF0" stroke-width="1.6"/>
<line x1="80.7" y1="694.12" x2="265.8" y2="694.12" stroke="#EDEEF0" stroke-width="1.6"/>
<line x1="80.7" y1="679.41" x2="265.8" y2="679.41" stroke="#EDEEF0" stroke-width="1.6"/>
<line x1="80.7" y1="664.7" x2="265.8" y2="664.7" stroke="#EDEEF0" stroke-width="1.6"/>
<line x1="102" y1="660.4" x2="102" y2="789.3" stroke="#EDEEF0" stroke-width="1.8"/>
<line x1="137.75" y1="660.4" x2="137.75" y2="789.3" stroke="#EDEEF0" stroke-width="1.8"/>
<line x1="173.5" y1="660.4" x2="173.5" y2="789.3" stroke="#EDEEF0" stroke-width="1.8"/>
<line x1="209.25" y1="660.4" x2="209.25" y2="789.3" stroke="#EDEEF0" stroke-width="1.8"/>
<line x1="245" y1="660.4" x2="245" y2="789.3" stroke="#EDEEF0" stroke-width="1.8"/>
<rect x="85.5" y="781.8" width="33" height="1.2" fill="#F28045" fill-opacity="0.45"/>
<rect x="121.25" y="770.75" width="33" height="12.25" fill="#F28045"/>
<rect x="157" y="735.67" width="33" height="47.33" fill="#F28045"/>
<rect x="192.75" y="735.67" width="33" height="47.33" fill="#F28045"/>
<rect x="228.5" y="730.14" width="33" height="52.86" fill="#F28045"/>
<path d="M102 782.4V754.62M97.5 754.62H106.5M97.5 782.4H106.5" fill="none" stroke="#000" stroke-width="1.6"/>
<path d="M137.75 780.63V746.15M133.25 746.15H142.25M133.25 780.63H142.25" fill="none" stroke="#000" stroke-width="1.6"/>
<path d="M173.5 760.15V708.25M169 708.25H178M169 760.15H178" fill="none" stroke="#000" stroke-width="1.6"/>
<path d="M209.25 760.15V708.25M204.75 708.25H213.75M204.75 760.15H213.75" fill="none" stroke="#000" stroke-width="1.6"/>
<path d="M245 755.92V702.36M240.5 702.36H249.5M240.5 755.92H249.5" fill="none" stroke="#000" stroke-width="1.6"/>
<rect x="80.7" y="660.4" width="185.1" height="128.9" fill="none" stroke="#333333" stroke-width="1.6"/>
<line x1="275.6" y1="782.4" x2="460.7" y2="782.4" stroke="#EDEEF0" stroke-width="1.6"/>
<line x1="275.6" y1="767.69" x2="460.7" y2="767.69" stroke="#EDEEF0" stroke-width="1.6"/>
<line x1="275.6" y1="752.98" x2="460.7" y2="752.98" stroke="#EDEEF0" stroke-width="1.6"/>
<line x1="275.6" y1="738.26" x2="460.7" y2="738.26" stroke="#EDEEF0" stroke-width="1.6"/>
<line x1="275.6" y1="723.55" x2="460.7" y2="723.55" stroke="#EDEEF0" stroke-width="1.6"/>
<line x1="275.6" y1="708.84" x2="460.7" y2="708.84" stroke="#EDEEF0" stroke-width="1.6"/>
<line x1="275.6" y1="694.12" x2="460.7" y2="694.12" stroke="#EDEEF0" stroke-width="1.6"/>
<line x1="275.6" y1="679.41" x2="460.7" y2="679.41" stroke="#EDEEF0" stroke-width="1.6"/>
<line x1="275.6" y1="664.7" x2="460.7" y2="664.7" stroke="#EDEEF0" stroke-width="1.6"/>
<line x1="296.3" y1="660.4" x2="296.3" y2="789.3" stroke="#EDEEF0" stroke-width="1.8"/>
<line x1="332.05" y1="660.4" x2="332.05" y2="789.3" stroke="#EDEEF0" stroke-width="1.8"/>
<line x1="367.8" y1="660.4" x2="367.8" y2="789.3" stroke="#EDEEF0" stroke-width="1.8"/>
<line x1="403.55" y1="660.4" x2="403.55" y2="789.3" stroke="#EDEEF0" stroke-width="1.8"/>
<line x1="439.3" y1="660.4" x2="439.3" y2="789.3" stroke="#EDEEF0" stroke-width="1.8"/>
<rect x="279.8" y="781.8" width="33" height="1.2" fill="#F28045" fill-opacity="0.45"/>
<rect x="315.55" y="765.1" width="33" height="17.9" fill="#F28045"/>
<rect x="351.3" y="741.21" width="33" height="41.79" fill="#F28045"/>
<rect x="387.05" y="723.2" width="33" height="59.8" fill="#F28045"/>
<rect x="422.8" y="730.14" width="33" height="52.86" fill="#F28045"/>
<path d="M296.3 782.4V762.86M291.8 762.86H300.8M291.8 782.4H300.8" fill="none" stroke="#000" stroke-width="1.6"/>
<path d="M332.05 779.46V738.97M327.55 738.97H336.55M327.55 779.46H336.55" fill="none" stroke="#000" stroke-width="1.6"/>
<path d="M367.8 764.27V713.78M363.3 713.78H372.3M363.3 764.27H372.3" fill="none" stroke="#000" stroke-width="1.6"/>
<path d="M403.55 751.8V697.07M399.05 697.07H408.05M399.05 751.8H408.05" fill="none" stroke="#000" stroke-width="1.6"/>
<path d="M439.3 755.92V702.36M434.8 702.36H443.8M434.8 755.92H443.8" fill="none" stroke="#000" stroke-width="1.6"/>
<rect x="275.6" y="660.4" width="185.1" height="128.9" fill="none" stroke="#333333" stroke-width="1.6"/>
<line x1="469" y1="782.4" x2="653.6" y2="782.4" stroke="#EDEEF0" stroke-width="1.6"/>
<line x1="469" y1="767.69" x2="653.6" y2="767.69" stroke="#EDEEF0" stroke-width="1.6"/>
<line x1="469" y1="752.98" x2="653.6" y2="752.98" stroke="#EDEEF0" stroke-width="1.6"/>
<line x1="469" y1="738.26" x2="653.6" y2="738.26" stroke="#EDEEF0" stroke-width="1.6"/>
<line x1="469" y1="723.55" x2="653.6" y2="723.55" stroke="#EDEEF0" stroke-width="1.6"/>
<line x1="469" y1="708.84" x2="653.6" y2="708.84" stroke="#EDEEF0" stroke-width="1.6"/>
<line x1="469" y1="694.12" x2="653.6" y2="694.12" stroke="#EDEEF0" stroke-width="1.6"/>
<line x1="469" y1="679.41" x2="653.6" y2="679.41" stroke="#EDEEF0" stroke-width="1.6"/>
<line x1="469" y1="664.7" x2="653.6" y2="664.7" stroke="#EDEEF0" stroke-width="1.6"/>
<line x1="490.6" y1="660.4" x2="490.6" y2="789.3" stroke="#EDEEF0" stroke-width="1.8"/>
<line x1="526.35" y1="660.4" x2="526.35" y2="789.3" stroke="#EDEEF0" stroke-width="1.8"/>
<line x1="562.1" y1="660.4" x2="562.1" y2="789.3" stroke="#EDEEF0" stroke-width="1.8"/>
<line x1="597.85" y1="660.4" x2="597.85" y2="789.3" stroke="#EDEEF0" stroke-width="1.8"/>
<line x1="633.6" y1="660.4" x2="633.6" y2="789.3" stroke="#EDEEF0" stroke-width="1.8"/>
<rect x="474.1" y="762.27" width="33" height="20.73" fill="#F28045"/>
<rect x="509.85" y="703.19" width="33" height="79.81" fill="#F28045"/>
<rect x="545.6" y="745.44" width="33" height="37.56" fill="#F28045"/>
<rect x="581.35" y="727.08" width="33" height="55.92" fill="#F28045"/>
<rect x="617.1" y="751.21" width="33" height="31.79" fill="#F28045"/>
<path d="M490.6 778.16V734.61M486.1 734.61H495.1M486.1 778.16H495.1" fill="none" stroke="#000" stroke-width="1.6"/>
<path d="M526.35 734.85V679.88M521.85 679.88H530.85M521.85 734.85H530.85" fill="none" stroke="#000" stroke-width="1.6"/>
<path d="M562.1 769.81V713.78M557.6 713.78H566.6M557.6 769.81H566.6" fill="none" stroke="#000" stroke-width="1.6"/>
<path d="M597.85 755.92V698.48M593.35 698.48H602.35M593.35 755.92H602.35" fill="none" stroke="#000" stroke-width="1.6"/>
<path d="M633.6 774.04V717.9M629.1 717.9H638.1M629.1 774.04H638.1" fill="none" stroke="#000" stroke-width="1.6"/>
<path d="M653.4 660.4H469V789.3H653.4" fill="none" stroke="#333333" stroke-width="1.6"/>
<rect x="655.6" y="660.4" width="26.3" height="128.9" fill="#D9DADC" stroke="#333333" stroke-width="1.6"/>
<text transform="translate(663.6,724.85) rotate(90)" x="0" y="0" font-size="14.8" fill="#1A1A1A" stroke="#1A1A1A" stroke-width="0.3" text-anchor="middle">149m</text>
<line x1="75.7" y1="782.4" x2="80.7" y2="782.4" stroke="#333333" stroke-width="1.6"/>
<text x="71.6" y="787.8" font-size="15.8" fill="#4D4D4D" stroke="#4D4D4D" stroke-width="0.45" text-anchor="end">0%</text>
<line x1="75.7" y1="752.98" x2="80.7" y2="752.98" stroke="#333333" stroke-width="1.6"/>
<text x="71.6" y="758.38" font-size="15.8" fill="#4D4D4D" stroke="#4D4D4D" stroke-width="0.45" text-anchor="end">25%</text>
<line x1="75.7" y1="723.55" x2="80.7" y2="723.55" stroke="#333333" stroke-width="1.6"/>
<text x="71.6" y="728.95" font-size="15.8" fill="#4D4D4D" stroke="#4D4D4D" stroke-width="0.45" text-anchor="end">50%</text>
<line x1="75.7" y1="694.12" x2="80.7" y2="694.12" stroke="#333333" stroke-width="1.6"/>
<text x="71.6" y="699.52" font-size="15.8" fill="#4D4D4D" stroke="#4D4D4D" stroke-width="0.45" text-anchor="end">75%</text>
<line x1="75.7" y1="664.7" x2="80.7" y2="664.7" stroke="#333333" stroke-width="1.6"/>
<text x="71.6" y="670.1" font-size="15.8" fill="#4D4D4D" stroke="#4D4D4D" stroke-width="0.45" text-anchor="end">100%</text>
<line x1="80.7" y1="919.8" x2="265.8" y2="919.8" stroke="#EDEEF0" stroke-width="1.6"/>
<line x1="80.7" y1="905.07" x2="265.8" y2="905.07" stroke="#EDEEF0" stroke-width="1.6"/>
<line x1="80.7" y1="890.35" x2="265.8" y2="890.35" stroke="#EDEEF0" stroke-width="1.6"/>
<line x1="80.7" y1="875.62" x2="265.8" y2="875.62" stroke="#EDEEF0" stroke-width="1.6"/>
<line x1="80.7" y1="860.9" x2="265.8" y2="860.9" stroke="#EDEEF0" stroke-width="1.6"/>
<line x1="80.7" y1="846.17" x2="265.8" y2="846.17" stroke="#EDEEF0" stroke-width="1.6"/>
<line x1="80.7" y1="831.45" x2="265.8" y2="831.45" stroke="#EDEEF0" stroke-width="1.6"/>
<line x1="80.7" y1="816.73" x2="265.8" y2="816.73" stroke="#EDEEF0" stroke-width="1.6"/>
<line x1="80.7" y1="802" x2="265.8" y2="802" stroke="#EDEEF0" stroke-width="1.6"/>
<line x1="102" y1="797.8" x2="102" y2="925.4" stroke="#EDEEF0" stroke-width="1.8"/>
<line x1="137.75" y1="797.8" x2="137.75" y2="925.4" stroke="#EDEEF0" stroke-width="1.8"/>
<line x1="173.5" y1="797.8" x2="173.5" y2="925.4" stroke="#EDEEF0" stroke-width="1.8"/>
<line x1="209.25" y1="797.8" x2="209.25" y2="925.4" stroke="#EDEEF0" stroke-width="1.8"/>
<line x1="245" y1="797.8" x2="245" y2="925.4" stroke="#EDEEF0" stroke-width="1.8"/>
<rect x="85.5" y="910.96" width="33" height="9.44" fill="#50925A"/>
<rect x="121.25" y="900.95" width="33" height="19.45" fill="#50925A"/>
<rect x="157" y="863.02" width="33" height="57.38" fill="#50925A"/>
<rect x="192.75" y="884.11" width="33" height="36.29" fill="#50925A"/>
<rect x="228.5" y="847.71" width="33" height="72.69" fill="#50925A"/>
<path d="M102 919.8V881.75M97.5 881.75H106.5M97.5 919.8H106.5" fill="none" stroke="#000" stroke-width="1.6"/>
<path d="M137.75 915.44V874.92M133.25 874.92H142.25M133.25 915.44H142.25" fill="none" stroke="#000" stroke-width="1.6"/>
<path d="M173.5 890.35V835.81M169 835.81H178M169 890.35H178" fill="none" stroke="#000" stroke-width="1.6"/>
<path d="M209.25 905.66V855.25M204.75 855.25H213.75M204.75 905.66H213.75" fill="none" stroke="#000" stroke-width="1.6"/>
<path d="M245 876.33V824.38M240.5 824.38H249.5M240.5 876.33H249.5" fill="none" stroke="#000" stroke-width="1.6"/>
<rect x="80.7" y="797.8" width="185.1" height="127.6" fill="none" stroke="#333333" stroke-width="1.6"/>
<line x1="275.6" y1="919.8" x2="460.7" y2="919.8" stroke="#EDEEF0" stroke-width="1.6"/>
<line x1="275.6" y1="905.07" x2="460.7" y2="905.07" stroke="#EDEEF0" stroke-width="1.6"/>
<line x1="275.6" y1="890.35" x2="460.7" y2="890.35" stroke="#EDEEF0" stroke-width="1.6"/>
<line x1="275.6" y1="875.62" x2="460.7" y2="875.62" stroke="#EDEEF0" stroke-width="1.6"/>
<line x1="275.6" y1="860.9" x2="460.7" y2="860.9" stroke="#EDEEF0" stroke-width="1.6"/>
<line x1="275.6" y1="846.17" x2="460.7" y2="846.17" stroke="#EDEEF0" stroke-width="1.6"/>
<line x1="275.6" y1="831.45" x2="460.7" y2="831.45" stroke="#EDEEF0" stroke-width="1.6"/>
<line x1="275.6" y1="816.73" x2="460.7" y2="816.73" stroke="#EDEEF0" stroke-width="1.6"/>
<line x1="275.6" y1="802" x2="460.7" y2="802" stroke="#EDEEF0" stroke-width="1.6"/>
<line x1="296.3" y1="797.8" x2="296.3" y2="925.4" stroke="#EDEEF0" stroke-width="1.8"/>
<line x1="332.05" y1="797.8" x2="332.05" y2="925.4" stroke="#EDEEF0" stroke-width="1.8"/>
<line x1="367.8" y1="797.8" x2="367.8" y2="925.4" stroke="#EDEEF0" stroke-width="1.8"/>
<line x1="403.55" y1="797.8" x2="403.55" y2="925.4" stroke="#EDEEF0" stroke-width="1.8"/>
<line x1="439.3" y1="797.8" x2="439.3" y2="925.4" stroke="#EDEEF0" stroke-width="1.8"/>
<rect x="279.8" y="912.38" width="33" height="8.02" fill="#50925A"/>
<rect x="315.55" y="906.84" width="33" height="13.56" fill="#50925A"/>
<rect x="351.3" y="860.55" width="33" height="59.85" fill="#50925A"/>
<rect x="387.05" y="846.29" width="33" height="74.11" fill="#50925A"/>
<rect x="422.8" y="870.21" width="33" height="50.19" fill="#50925A"/>
<path d="M296.3 919.8V887.76M291.8 887.76H300.8M291.8 919.8H300.8" fill="none" stroke="#000" stroke-width="1.6"/>
<path d="M332.05 918.15V880.69M327.55 880.69H336.55M327.55 918.15H336.55" fill="none" stroke="#000" stroke-width="1.6"/>
<path d="M367.8 890.35V830.27M363.3 830.27H372.3M363.3 890.35H372.3" fill="none" stroke="#000" stroke-width="1.6"/>
<path d="M403.55 873.5V822.97M399.05 822.97H408.05M399.05 873.5H408.05" fill="none" stroke="#000" stroke-width="1.6"/>
<path d="M439.3 897.42V839.7M434.8 839.7H443.8M434.8 897.42H443.8" fill="none" stroke="#000" stroke-width="1.6"/>
<rect x="275.6" y="797.8" width="185.1" height="127.6" fill="none" stroke="#333333" stroke-width="1.6"/>
<line x1="469" y1="919.8" x2="653.6" y2="919.8" stroke="#EDEEF0" stroke-width="1.6"/>
<line x1="469" y1="905.07" x2="653.6" y2="905.07" stroke="#EDEEF0" stroke-width="1.6"/>
<line x1="469" y1="890.35" x2="653.6" y2="890.35" stroke="#EDEEF0" stroke-width="1.6"/>
<line x1="469" y1="875.62" x2="653.6" y2="875.62" stroke="#EDEEF0" stroke-width="1.6"/>
<line x1="469" y1="860.9" x2="653.6" y2="860.9" stroke="#EDEEF0" stroke-width="1.6"/>
<line x1="469" y1="846.17" x2="653.6" y2="846.17" stroke="#EDEEF0" stroke-width="1.6"/>
<line x1="469" y1="831.45" x2="653.6" y2="831.45" stroke="#EDEEF0" stroke-width="1.6"/>
<line x1="469" y1="816.73" x2="653.6" y2="816.73" stroke="#EDEEF0" stroke-width="1.6"/>
<line x1="469" y1="802" x2="653.6" y2="802" stroke="#EDEEF0" stroke-width="1.6"/>
<line x1="490.6" y1="797.8" x2="490.6" y2="925.4" stroke="#EDEEF0" stroke-width="1.8"/>
<line x1="526.35" y1="797.8" x2="526.35" y2="925.4" stroke="#EDEEF0" stroke-width="1.8"/>
<line x1="562.1" y1="797.8" x2="562.1" y2="925.4" stroke="#EDEEF0" stroke-width="1.8"/>
<line x1="597.85" y1="797.8" x2="597.85" y2="925.4" stroke="#EDEEF0" stroke-width="1.8"/>
<line x1="633.6" y1="797.8" x2="633.6" y2="925.4" stroke="#EDEEF0" stroke-width="1.8"/>
<rect x="474.1" y="913.79" width="33" height="6.61" fill="#50925A"/>
<rect x="509.85" y="873.15" width="33" height="47.25" fill="#50925A"/>
<rect x="545.6" y="888.47" width="33" height="31.93" fill="#50925A"/>
<rect x="581.35" y="897.06" width="33" height="23.34" fill="#50925A"/>
<rect x="617.1" y="889.88" width="33" height="30.52" fill="#50925A"/>
<path d="M490.6 919.8V891.76M486.1 891.76H495.1M486.1 919.8H495.1" fill="none" stroke="#000" stroke-width="1.6"/>
<path d="M526.35 898.83V844.05M521.85 844.05H530.85M521.85 898.83H530.85" fill="none" stroke="#000" stroke-width="1.6"/>
<path d="M562.1 908.49V859.6M557.6 859.6H566.6M557.6 908.49H566.6" fill="none" stroke="#000" stroke-width="1.6"/>
<path d="M597.85 912.85V870.44M593.35 870.44H602.35M593.35 912.85H602.35" fill="none" stroke="#000" stroke-width="1.6"/>
<path d="M633.6 908.49V861.02M629.1 861.02H638.1M629.1 908.49H638.1" fill="none" stroke="#000" stroke-width="1.6"/>
<path d="M653.4 797.8H469V925.4H653.4" fill="none" stroke="#333333" stroke-width="1.6"/>
<rect x="655.6" y="797.8" width="26.3" height="127.6" fill="#D9DADC" stroke="#333333" stroke-width="1.6"/>
<text transform="translate(663.6,861.6) rotate(90)" x="0" y="0" font-size="14.8" fill="#1A1A1A" stroke="#1A1A1A" stroke-width="0.3" text-anchor="middle">542m</text>
<line x1="75.7" y1="919.8" x2="80.7" y2="919.8" stroke="#333333" stroke-width="1.6"/>
<text x="71.6" y="925.2" font-size="15.8" fill="#4D4D4D" stroke="#4D4D4D" stroke-width="0.45" text-anchor="end">0%</text>
<line x1="75.7" y1="890.35" x2="80.7" y2="890.35" stroke="#333333" stroke-width="1.6"/>
<text x="71.6" y="895.75" font-size="15.8" fill="#4D4D4D" stroke="#4D4D4D" stroke-width="0.45" text-anchor="end">25%</text>
<line x1="75.7" y1="860.9" x2="80.7" y2="860.9" stroke="#333333" stroke-width="1.6"/>
<text x="71.6" y="866.3" font-size="15.8" fill="#4D4D4D" stroke="#4D4D4D" stroke-width="0.45" text-anchor="end">50%</text>
<line x1="75.7" y1="831.45" x2="80.7" y2="831.45" stroke="#333333" stroke-width="1.6"/>
<text x="71.6" y="836.85" font-size="15.8" fill="#4D4D4D" stroke="#4D4D4D" stroke-width="0.45" text-anchor="end">75%</text>
<line x1="75.7" y1="802" x2="80.7" y2="802" stroke="#333333" stroke-width="1.6"/>
<text x="71.6" y="807.4" font-size="15.8" fill="#4D4D4D" stroke="#4D4D4D" stroke-width="0.45" text-anchor="end">100%</text>
<line x1="80.7" y1="1055.7" x2="265.8" y2="1055.7" stroke="#EDEEF0" stroke-width="1.6"/>
<line x1="80.7" y1="1040.99" x2="265.8" y2="1040.99" stroke="#EDEEF0" stroke-width="1.6"/>
<line x1="80.7" y1="1026.28" x2="265.8" y2="1026.28" stroke="#EDEEF0" stroke-width="1.6"/>
<line x1="80.7" y1="1011.56" x2="265.8" y2="1011.56" stroke="#EDEEF0" stroke-width="1.6"/>
<line x1="80.7" y1="996.85" x2="265.8" y2="996.85" stroke="#EDEEF0" stroke-width="1.6"/>
<line x1="80.7" y1="982.14" x2="265.8" y2="982.14" stroke="#EDEEF0" stroke-width="1.6"/>
<line x1="80.7" y1="967.42" x2="265.8" y2="967.42" stroke="#EDEEF0" stroke-width="1.6"/>
<line x1="80.7" y1="952.71" x2="265.8" y2="952.71" stroke="#EDEEF0" stroke-width="1.6"/>
<line x1="80.7" y1="938" x2="265.8" y2="938" stroke="#EDEEF0" stroke-width="1.6"/>
<line x1="102" y1="933.8" x2="102" y2="1061.4" stroke="#EDEEF0" stroke-width="1.8"/>
<line x1="137.75" y1="933.8" x2="137.75" y2="1061.4" stroke="#EDEEF0" stroke-width="1.8"/>
<line x1="173.5" y1="933.8" x2="173.5" y2="1061.4" stroke="#EDEEF0" stroke-width="1.8"/>
<line x1="209.25" y1="933.8" x2="209.25" y2="1061.4" stroke="#EDEEF0" stroke-width="1.8"/>
<line x1="245" y1="933.8" x2="245" y2="1061.4" stroke="#EDEEF0" stroke-width="1.8"/>
<rect x="85.5" y="1055.1" width="33" height="1.2" fill="#A47C46" fill-opacity="0.45"/>
<rect x="121.25" y="1044.17" width="33" height="12.13" fill="#A47C46"/>
<rect x="157" y="996.5" width="33" height="59.8" fill="#A47C46"/>
<rect x="192.75" y="1002.03" width="33" height="54.27" fill="#A47C46"/>
<rect x="228.5" y="1007.56" width="33" height="48.74" fill="#A47C46"/>
<path d="M102 1055.7V1030.28M97.5 1030.28H106.5M97.5 1055.7H106.5" fill="none" stroke="#000" stroke-width="1.6"/>
<path d="M137.75 1054.17V1017.8M133.25 1017.8H142.25M133.25 1054.17H142.25" fill="none" stroke="#000" stroke-width="1.6"/>
<path d="M173.5 1023.45V970.37M169 970.37H178M169 1023.45H178" fill="none" stroke="#000" stroke-width="1.6"/>
<path d="M209.25 1029.22V974.6M204.75 974.6H213.75M204.75 1029.22H213.75" fill="none" stroke="#000" stroke-width="1.6"/>
<path d="M245 1033.45V980.14M240.5 980.14H249.5M240.5 1033.45H249.5" fill="none" stroke="#000" stroke-width="1.6"/>
<rect x="80.7" y="933.8" width="185.1" height="127.6" fill="none" stroke="#333333" stroke-width="1.6"/>
<line x1="275.6" y1="1055.7" x2="460.7" y2="1055.7" stroke="#EDEEF0" stroke-width="1.6"/>
<line x1="275.6" y1="1040.99" x2="460.7" y2="1040.99" stroke="#EDEEF0" stroke-width="1.6"/>
<line x1="275.6" y1="1026.28" x2="460.7" y2="1026.28" stroke="#EDEEF0" stroke-width="1.6"/>
<line x1="275.6" y1="1011.56" x2="460.7" y2="1011.56" stroke="#EDEEF0" stroke-width="1.6"/>
<line x1="275.6" y1="996.85" x2="460.7" y2="996.85" stroke="#EDEEF0" stroke-width="1.6"/>
<line x1="275.6" y1="982.14" x2="460.7" y2="982.14" stroke="#EDEEF0" stroke-width="1.6"/>
<line x1="275.6" y1="967.42" x2="460.7" y2="967.42" stroke="#EDEEF0" stroke-width="1.6"/>
<line x1="275.6" y1="952.71" x2="460.7" y2="952.71" stroke="#EDEEF0" stroke-width="1.6"/>
<line x1="275.6" y1="938" x2="460.7" y2="938" stroke="#EDEEF0" stroke-width="1.6"/>
<line x1="296.3" y1="933.8" x2="296.3" y2="1061.4" stroke="#EDEEF0" stroke-width="1.8"/>
<line x1="332.05" y1="933.8" x2="332.05" y2="1061.4" stroke="#EDEEF0" stroke-width="1.8"/>
<line x1="367.8" y1="933.8" x2="367.8" y2="1061.4" stroke="#EDEEF0" stroke-width="1.8"/>
<line x1="403.55" y1="933.8" x2="403.55" y2="1061.4" stroke="#EDEEF0" stroke-width="1.8"/>
<line x1="439.3" y1="933.8" x2="439.3" y2="1061.4" stroke="#EDEEF0" stroke-width="1.8"/>
<rect x="279.8" y="1055.1" width="33" height="1.2" fill="#A47C46" fill-opacity="0.45"/>
<rect x="315.55" y="1044.17" width="33" height="12.13" fill="#A47C46"/>
<rect x="351.3" y="1007.56" width="33" height="48.74" fill="#A47C46"/>
<rect x="387.05" y="972.6" width="33" height="83.7" fill="#A47C46"/>
<rect x="422.8" y="972.6" width="33" height="83.7" fill="#A47C46"/>
<path d="M296.3 1055.7V1034.75M291.8 1034.75H300.8M291.8 1055.7H300.8" fill="none" stroke="#000" stroke-width="1.6"/>
<path d="M332.05 1054.17V1020.63M327.55 1020.63H336.55M327.55 1054.17H336.55" fill="none" stroke="#000" stroke-width="1.6"/>
<path d="M367.8 1033.45V980.14M363.3 980.14H372.3M363.3 1033.45H372.3" fill="none" stroke="#000" stroke-width="1.6"/>
<path d="M403.55 1004.03V950.71M399.05 950.71H408.05M399.05 1004.03H408.05" fill="none" stroke="#000" stroke-width="1.6"/>
<path d="M439.3 1002.62V951.77M434.8 951.77H443.8M434.8 1002.62H443.8" fill="none" stroke="#000" stroke-width="1.6"/>
<rect x="275.6" y="933.8" width="185.1" height="127.6" fill="none" stroke="#333333" stroke-width="1.6"/>
<line x1="469" y1="1055.7" x2="653.6" y2="1055.7" stroke="#EDEEF0" stroke-width="1.6"/>
<line x1="469" y1="1040.99" x2="653.6" y2="1040.99" stroke="#EDEEF0" stroke-width="1.6"/>
<line x1="469" y1="1026.28" x2="653.6" y2="1026.28" stroke="#EDEEF0" stroke-width="1.6"/>
<line x1="469" y1="1011.56" x2="653.6" y2="1011.56" stroke="#EDEEF0" stroke-width="1.6"/>
<line x1="469" y1="996.85" x2="653.6" y2="996.85" stroke="#EDEEF0" stroke-width="1.6"/>
<line x1="469" y1="982.14" x2="653.6" y2="982.14" stroke="#EDEEF0" stroke-width="1.6"/>
<line x1="469" y1="967.42" x2="653.6" y2="967.42" stroke="#EDEEF0" stroke-width="1.6"/>
<line x1="469" y1="952.71" x2="653.6" y2="952.71" stroke="#EDEEF0" stroke-width="1.6"/>
<line x1="469" y1="938" x2="653.6" y2="938" stroke="#EDEEF0" stroke-width="1.6"/>
<line x1="490.6" y1="933.8" x2="490.6" y2="1061.4" stroke="#EDEEF0" stroke-width="1.8"/>
<line x1="526.35" y1="933.8" x2="526.35" y2="1061.4" stroke="#EDEEF0" stroke-width="1.8"/>
<line x1="562.1" y1="933.8" x2="562.1" y2="1061.4" stroke="#EDEEF0" stroke-width="1.8"/>
<line x1="597.85" y1="933.8" x2="597.85" y2="1061.4" stroke="#EDEEF0" stroke-width="1.8"/>
<line x1="633.6" y1="933.8" x2="633.6" y2="1061.4" stroke="#EDEEF0" stroke-width="1.8"/>
<rect x="474.1" y="1042.52" width="33" height="13.78" fill="#A47C46"/>
<rect x="509.85" y="969.78" width="33" height="86.52" fill="#A47C46"/>
<rect x="545.6" y="998.97" width="33" height="57.33" fill="#A47C46"/>
<rect x="581.35" y="1007.56" width="33" height="48.74" fill="#A47C46"/>
<rect x="617.1" y="1038.4" width="33" height="17.9" fill="#A47C46"/>
<path d="M490.6 1054.17V1016.51M486.1 1016.51H495.1M486.1 1054.17H495.1" fill="none" stroke="#000" stroke-width="1.6"/>
<path d="M526.35 1001.2V949.3M521.85 949.3H530.85M521.85 1001.2H530.85" fill="none" stroke="#000" stroke-width="1.6"/>
<path d="M562.1 1027.81V971.78M557.6 971.78H566.6M557.6 1027.81H566.6" fill="none" stroke="#000" stroke-width="1.6"/>
<path d="M597.85 1033.45V980.14M593.35 980.14H602.35M593.35 1033.45H602.35" fill="none" stroke="#000" stroke-width="1.6"/>
<path d="M633.6 1051.35V1010.86M629.1 1010.86H638.1M629.1 1051.35H638.1" fill="none" stroke="#000" stroke-width="1.6"/>
<path d="M653.4 933.8H469V1061.4H653.4" fill="none" stroke="#333333" stroke-width="1.6"/>
<rect x="655.6" y="933.8" width="26.3" height="127.6" fill="#D9DADC" stroke="#333333" stroke-width="1.6"/>
<text transform="translate(663.6,997.6) rotate(90)" x="0" y="0" font-size="14.8" fill="#1A1A1A" stroke="#1A1A1A" stroke-width="0.3" text-anchor="middle">762m</text>
<line x1="75.7" y1="1055.7" x2="80.7" y2="1055.7" stroke="#333333" stroke-width="1.6"/>
<text x="71.6" y="1061.1" font-size="15.8" fill="#4D4D4D" stroke="#4D4D4D" stroke-width="0.45" text-anchor="end">0%</text>
<line x1="75.7" y1="1026.28" x2="80.7" y2="1026.28" stroke="#333333" stroke-width="1.6"/>
<text x="71.6" y="1031.68" font-size="15.8" fill="#4D4D4D" stroke="#4D4D4D" stroke-width="0.45" text-anchor="end">25%</text>
<line x1="75.7" y1="996.85" x2="80.7" y2="996.85" stroke="#333333" stroke-width="1.6"/>
<text x="71.6" y="1002.25" font-size="15.8" fill="#4D4D4D" stroke="#4D4D4D" stroke-width="0.45" text-anchor="end">50%</text>
<line x1="75.7" y1="967.42" x2="80.7" y2="967.42" stroke="#333333" stroke-width="1.6"/>
<text x="71.6" y="972.82" font-size="15.8" fill="#4D4D4D" stroke="#4D4D4D" stroke-width="0.45" text-anchor="end">75%</text>
<line x1="75.7" y1="938" x2="80.7" y2="938" stroke="#333333" stroke-width="1.6"/>
<text x="71.6" y="943.4" font-size="15.8" fill="#4D4D4D" stroke="#4D4D4D" stroke-width="0.45" text-anchor="end">100%</text>
<line x1="80.7" y1="1191.5" x2="265.8" y2="1191.5" stroke="#EDEEF0" stroke-width="1.6"/>
<line x1="80.7" y1="1176.81" x2="265.8" y2="1176.81" stroke="#EDEEF0" stroke-width="1.6"/>
<line x1="80.7" y1="1162.12" x2="265.8" y2="1162.12" stroke="#EDEEF0" stroke-width="1.6"/>
<line x1="80.7" y1="1147.44" x2="265.8" y2="1147.44" stroke="#EDEEF0" stroke-width="1.6"/>
<line x1="80.7" y1="1132.75" x2="265.8" y2="1132.75" stroke="#EDEEF0" stroke-width="1.6"/>
<line x1="80.7" y1="1118.06" x2="265.8" y2="1118.06" stroke="#EDEEF0" stroke-width="1.6"/>
<line x1="80.7" y1="1103.38" x2="265.8" y2="1103.38" stroke="#EDEEF0" stroke-width="1.6"/>
<line x1="80.7" y1="1088.69" x2="265.8" y2="1088.69" stroke="#EDEEF0" stroke-width="1.6"/>
<line x1="80.7" y1="1074" x2="265.8" y2="1074" stroke="#EDEEF0" stroke-width="1.6"/>
<line x1="102" y1="1071.1" x2="102" y2="1198.6" stroke="#EDEEF0" stroke-width="1.8"/>
<line x1="137.75" y1="1071.1" x2="137.75" y2="1198.6" stroke="#EDEEF0" stroke-width="1.8"/>
<line x1="173.5" y1="1071.1" x2="173.5" y2="1198.6" stroke="#EDEEF0" stroke-width="1.8"/>
<line x1="209.25" y1="1071.1" x2="209.25" y2="1198.6" stroke="#EDEEF0" stroke-width="1.8"/>
<line x1="245" y1="1071.1" x2="245" y2="1198.6" stroke="#EDEEF0" stroke-width="1.8"/>
<rect x="85.5" y="1190.9" width="33" height="1.2" fill="#535DAA" fill-opacity="0.45"/>
<rect x="121.25" y="1150.38" width="33" height="41.73" fill="#535DAA"/>
<rect x="157" y="1090.21" width="33" height="101.89" fill="#535DAA"/>
<rect x="192.75" y="1115.71" width="33" height="76.39" fill="#535DAA"/>
<rect x="228.5" y="1126.88" width="33" height="65.22" fill="#535DAA"/>
<path d="M102 1191.5V1159.31M97.5 1159.31H106.5M97.5 1191.5H106.5" fill="none" stroke="#000" stroke-width="1.6"/>
<path d="M137.75 1174.82V1122.88M133.25 1122.88H142.25M133.25 1174.82H142.25" fill="none" stroke="#000" stroke-width="1.6"/>
<path d="M173.5 1121.59V1076.94M169 1076.94H178M169 1121.59H178" fill="none" stroke="#000" stroke-width="1.6"/>
<path d="M209.25 1144.03V1092.45M204.75 1092.45H213.75M204.75 1144.03H213.75" fill="none" stroke="#000" stroke-width="1.6"/>
<path d="M245 1155.43V1102.2M240.5 1102.2H249.5M240.5 1155.43H249.5" fill="none" stroke="#000" stroke-width="1.6"/>
<rect x="80.7" y="1071.1" width="185.1" height="127.5" fill="none" stroke="#333333" stroke-width="1.6"/>
<line x1="275.6" y1="1191.5" x2="460.7" y2="1191.5" stroke="#EDEEF0" stroke-width="1.6"/>
<line x1="275.6" y1="1176.81" x2="460.7" y2="1176.81" stroke="#EDEEF0" stroke-width="1.6"/>
<line x1="275.6" y1="1162.12" x2="460.7" y2="1162.12" stroke="#EDEEF0" stroke-width="1.6"/>
<line x1="275.6" y1="1147.44" x2="460.7" y2="1147.44" stroke="#EDEEF0" stroke-width="1.6"/>
<line x1="275.6" y1="1132.75" x2="460.7" y2="1132.75" stroke="#EDEEF0" stroke-width="1.6"/>
<line x1="275.6" y1="1118.06" x2="460.7" y2="1118.06" stroke="#EDEEF0" stroke-width="1.6"/>
<line x1="275.6" y1="1103.38" x2="460.7" y2="1103.38" stroke="#EDEEF0" stroke-width="1.6"/>
<line x1="275.6" y1="1088.69" x2="460.7" y2="1088.69" stroke="#EDEEF0" stroke-width="1.6"/>
<line x1="275.6" y1="1074" x2="460.7" y2="1074" stroke="#EDEEF0" stroke-width="1.6"/>
<line x1="296.3" y1="1071.1" x2="296.3" y2="1198.6" stroke="#EDEEF0" stroke-width="1.8"/>
<line x1="332.05" y1="1071.1" x2="332.05" y2="1198.6" stroke="#EDEEF0" stroke-width="1.8"/>
<line x1="367.8" y1="1071.1" x2="367.8" y2="1198.6" stroke="#EDEEF0" stroke-width="1.8"/>
<line x1="403.55" y1="1071.1" x2="403.55" y2="1198.6" stroke="#EDEEF0" stroke-width="1.8"/>
<line x1="439.3" y1="1071.1" x2="439.3" y2="1198.6" stroke="#EDEEF0" stroke-width="1.8"/>
<rect x="279.8" y="1190.9" width="33" height="1.2" fill="#535DAA" fill-opacity="0.45"/>
<rect x="315.55" y="1171.53" width="33" height="20.57" fill="#535DAA"/>
<rect x="351.3" y="1112.42" width="33" height="79.68" fill="#535DAA"/>
<rect x="387.05" y="1116.77" width="33" height="75.33" fill="#535DAA"/>
<rect x="422.8" y="1109.95" width="33" height="82.15" fill="#535DAA"/>
<path d="M296.3 1191.5V1166.47M291.8 1166.47H300.8M291.8 1191.5H300.8" fill="none" stroke="#000" stroke-width="1.6"/>
<path d="M332.05 1187.27V1143.68M327.55 1143.68H336.55M327.55 1187.27H336.55" fill="none" stroke="#000" stroke-width="1.6"/>
<path d="M367.8 1143.68V1090.8M363.3 1090.8H372.3M363.3 1143.68H372.3" fill="none" stroke="#000" stroke-width="1.6"/>
<path d="M403.55 1146.85V1093.51M399.05 1093.51H408.05M399.05 1146.85H408.05" fill="none" stroke="#000" stroke-width="1.6"/>
<path d="M439.3 1138.51V1087.98M434.8 1087.98H443.8M434.8 1138.51H443.8" fill="none" stroke="#000" stroke-width="1.6"/>
<rect x="275.6" y="1071.1" width="185.1" height="127.5" fill="none" stroke="#333333" stroke-width="1.6"/>
<line x1="469" y1="1191.5" x2="653.6" y2="1191.5" stroke="#EDEEF0" stroke-width="1.6"/>
<line x1="469" y1="1176.81" x2="653.6" y2="1176.81" stroke="#EDEEF0" stroke-width="1.6"/>
<line x1="469" y1="1162.12" x2="653.6" y2="1162.12" stroke="#EDEEF0" stroke-width="1.6"/>
<line x1="469" y1="1147.44" x2="653.6" y2="1147.44" stroke="#EDEEF0" stroke-width="1.6"/>
<line x1="469" y1="1132.75" x2="653.6" y2="1132.75" stroke="#EDEEF0" stroke-width="1.6"/>
<line x1="469" y1="1118.06" x2="653.6" y2="1118.06" stroke="#EDEEF0" stroke-width="1.6"/>
<line x1="469" y1="1103.38" x2="653.6" y2="1103.38" stroke="#EDEEF0" stroke-width="1.6"/>
<line x1="469" y1="1088.69" x2="653.6" y2="1088.69" stroke="#EDEEF0" stroke-width="1.6"/>
<line x1="469" y1="1074" x2="653.6" y2="1074" stroke="#EDEEF0" stroke-width="1.6"/>
<line x1="490.6" y1="1071.1" x2="490.6" y2="1198.6" stroke="#EDEEF0" stroke-width="1.8"/>
<line x1="526.35" y1="1071.1" x2="526.35" y2="1198.6" stroke="#EDEEF0" stroke-width="1.8"/>
<line x1="562.1" y1="1071.1" x2="562.1" y2="1198.6" stroke="#EDEEF0" stroke-width="1.8"/>
<line x1="597.85" y1="1071.1" x2="597.85" y2="1198.6" stroke="#EDEEF0" stroke-width="1.8"/>
<line x1="633.6" y1="1071.1" x2="633.6" y2="1198.6" stroke="#EDEEF0" stroke-width="1.8"/>
<rect x="474.1" y="1181.16" width="33" height="10.94" fill="#535DAA"/>
<rect x="509.85" y="1119.59" width="33" height="72.51" fill="#535DAA"/>
<rect x="545.6" y="1152.14" width="33" height="39.96" fill="#535DAA"/>
<rect x="581.35" y="1169.06" width="33" height="23.04" fill="#535DAA"/>
<rect x="617.1" y="1156.25" width="33" height="35.85" fill="#535DAA"/>
<path d="M490.6 1191.15V1143.68M486.1 1143.68H495.1M486.1 1191.15H495.1" fill="none" stroke="#000" stroke-width="1.6"/>
<path d="M526.35 1155.43V1090.8M521.85 1090.8H530.85M521.85 1155.43H530.85" fill="none" stroke="#000" stroke-width="1.6"/>
<path d="M562.1 1180.45V1115.95M557.6 1115.95H566.6M557.6 1180.45H566.6" fill="none" stroke="#000" stroke-width="1.6"/>
<path d="M597.85 1187.62V1135.45M593.35 1135.45H602.35M593.35 1187.62H602.35" fill="none" stroke="#000" stroke-width="1.6"/>
<path d="M633.6 1177.63V1128.52M629.1 1128.52H638.1M629.1 1177.63H638.1" fill="none" stroke="#000" stroke-width="1.6"/>
<path d="M653.4 1071.1H469V1198.6H653.4" fill="none" stroke="#333333" stroke-width="1.6"/>
<rect x="655.6" y="1071.1" width="26.3" height="127.5" fill="#D9DADC" stroke="#333333" stroke-width="1.6"/>
<text transform="translate(663.6,1134.85) rotate(90)" x="0" y="0" font-size="14.8" fill="#1A1A1A" stroke="#1A1A1A" stroke-width="0.3" text-anchor="middle">1209m</text>
<line x1="75.7" y1="1191.5" x2="80.7" y2="1191.5" stroke="#333333" stroke-width="1.6"/>
<text x="71.6" y="1196.9" font-size="15.8" fill="#4D4D4D" stroke="#4D4D4D" stroke-width="0.45" text-anchor="end">0%</text>
<line x1="75.7" y1="1162.12" x2="80.7" y2="1162.12" stroke="#333333" stroke-width="1.6"/>
<text x="71.6" y="1167.53" font-size="15.8" fill="#4D4D4D" stroke="#4D4D4D" stroke-width="0.45" text-anchor="end">25%</text>
<line x1="75.7" y1="1132.75" x2="80.7" y2="1132.75" stroke="#333333" stroke-width="1.6"/>
<text x="71.6" y="1138.15" font-size="15.8" fill="#4D4D4D" stroke="#4D4D4D" stroke-width="0.45" text-anchor="end">50%</text>
<line x1="75.7" y1="1103.38" x2="80.7" y2="1103.38" stroke="#333333" stroke-width="1.6"/>
<text x="71.6" y="1108.78" font-size="15.8" fill="#4D4D4D" stroke="#4D4D4D" stroke-width="0.45" text-anchor="end">75%</text>
<line x1="75.7" y1="1074" x2="80.7" y2="1074" stroke="#333333" stroke-width="1.6"/>
<text x="71.6" y="1079.4" font-size="15.8" fill="#4D4D4D" stroke="#4D4D4D" stroke-width="0.45" text-anchor="end">100%</text>
<line x1="102" y1="1198.6" x2="102" y2="1203.6" stroke="#333333" stroke-width="1.6"/>
<text x="102" y="1217.2" font-size="15.8" fill="#4D4D4D" stroke="#4D4D4D" stroke-width="0.45" text-anchor="middle">3</text>
<line x1="137.75" y1="1198.6" x2="137.75" y2="1203.6" stroke="#333333" stroke-width="1.6"/>
<text x="137.75" y="1217.2" font-size="15.8" fill="#4D4D4D" stroke="#4D4D4D" stroke-width="0.45" text-anchor="middle">7</text>
<line x1="173.5" y1="1198.6" x2="173.5" y2="1203.6" stroke="#333333" stroke-width="1.6"/>
<text x="173.5" y="1217.2" font-size="15.8" fill="#4D4D4D" stroke="#4D4D4D" stroke-width="0.45" text-anchor="middle">10</text>
<line x1="209.25" y1="1198.6" x2="209.25" y2="1203.6" stroke="#333333" stroke-width="1.6"/>
<text x="209.25" y="1217.2" font-size="15.8" fill="#4D4D4D" stroke="#4D4D4D" stroke-width="0.45" text-anchor="middle">14</text>
<line x1="245" y1="1198.6" x2="245" y2="1203.6" stroke="#333333" stroke-width="1.6"/>
<text x="245" y="1217.2" font-size="15.8" fill="#4D4D4D" stroke="#4D4D4D" stroke-width="0.45" text-anchor="middle">21</text>
<line x1="296.3" y1="1198.6" x2="296.3" y2="1203.6" stroke="#333333" stroke-width="1.6"/>
<text x="296.3" y="1217.2" font-size="15.8" fill="#4D4D4D" stroke="#4D4D4D" stroke-width="0.45" text-anchor="middle">3</text>
<line x1="332.05" y1="1198.6" x2="332.05" y2="1203.6" stroke="#333333" stroke-width="1.6"/>
<text x="332.05" y="1217.2" font-size="15.8" fill="#4D4D4D" stroke="#4D4D4D" stroke-width="0.45" text-anchor="middle">7</text>
<line x1="367.8" y1="1198.6" x2="367.8" y2="1203.6" stroke="#333333" stroke-width="1.6"/>
<text x="367.8" y="1217.2" font-size="15.8" fill="#4D4D4D" stroke="#4D4D4D" stroke-width="0.45" text-anchor="middle">10</text>
<line x1="403.55" y1="1198.6" x2="403.55" y2="1203.6" stroke="#333333" stroke-width="1.6"/>
<text x="403.55" y="1217.2" font-size="15.8" fill="#4D4D4D" stroke="#4D4D4D" stroke-width="0.45" text-anchor="middle">14</text>
<line x1="439.3" y1="1198.6" x2="439.3" y2="1203.6" stroke="#333333" stroke-width="1.6"/>
<text x="439.3" y="1217.2" font-size="15.8" fill="#4D4D4D" stroke="#4D4D4D" stroke-width="0.45" text-anchor="middle">21</text>
<line x1="490.6" y1="1198.6" x2="490.6" y2="1203.6" stroke="#333333" stroke-width="1.6"/>
<text x="490.6" y="1217.2" font-size="15.8" fill="#4D4D4D" stroke="#4D4D4D" stroke-width="0.45" text-anchor="middle">3</text>
<line x1="526.35" y1="1198.6" x2="526.35" y2="1203.6" stroke="#333333" stroke-width="1.6"/>
<text x="526.35" y="1217.2" font-size="15.8" fill="#4D4D4D" stroke="#4D4D4D" stroke-width="0.45" text-anchor="middle">7</text>
<line x1="562.1" y1="1198.6" x2="562.1" y2="1203.6" stroke="#333333" stroke-width="1.6"/>
<text x="562.1" y="1217.2" font-size="15.8" fill="#4D4D4D" stroke="#4D4D4D" stroke-width="0.45" text-anchor="middle">10</text>
<line x1="597.85" y1="1198.6" x2="597.85" y2="1203.6" stroke="#333333" stroke-width="1.6"/>
<text x="597.85" y="1217.2" font-size="15.8" fill="#4D4D4D" stroke="#4D4D4D" stroke-width="0.45" text-anchor="middle">14</text>
<line x1="633.6" y1="1198.6" x2="633.6" y2="1203.6" stroke="#333333" stroke-width="1.6"/>
<text x="633.6" y="1217.2" font-size="15.8" fill="#4D4D4D" stroke="#4D4D4D" stroke-width="0.45" text-anchor="middle">21</text>
<text x="270.2" y="1242" font-size="23.8" fill="#000" stroke="#000" stroke-width="0.35" textLength="194.6" lengthAdjust="spacingAndGlyphs">Days post−infection</text>
<text transform="translate(21.1,928) rotate(-90)" x="-115.85" y="0" font-size="23.8" fill="#000" stroke="#000" stroke-width="0.35" textLength="231.7" lengthAdjust="spacingAndGlyphs">Transmission efficiency</text>
</svg></div>
</body></html>
